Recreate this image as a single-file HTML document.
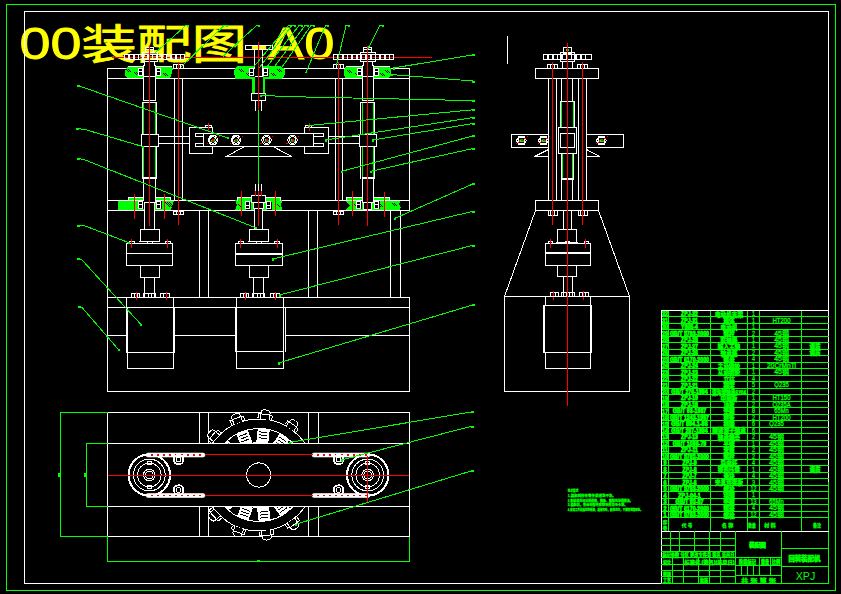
<!DOCTYPE html>
<html lang="zh"><head><meta charset="utf-8"><title>00装配图-A0</title>
<style>
html,body{margin:0;padding:0;background:#000;}
body{width:841px;height:594px;overflow:hidden;}
svg{display:block;}
svg line,svg rect,svg polyline,svg polygon,svg circle,svg path{shape-rendering:crispEdges;}
text{font-family:"Liberation Sans","Noto Sans CJK SC",sans-serif;}
</style></head><body>
<svg width="841" height="594" viewBox="0 0 841 594">
<rect x="0" y="0" width="841" height="594" fill="#000" stroke="none"/>
<text transform="translate(19.4 59) scale(1.239 1)" font-size="45" fill="#ffff00" stroke="#ffff00" stroke-width="0.8">00<tspan font-size="41" dy="-0.4" textLength="133.5" lengthAdjust="spacingAndGlyphs">装配图</tspan><tspan dy="0.4" dx="2.6" textLength="68.2" lengthAdjust="spacingAndGlyphs">-A0</tspan></text>
<rect x="6.5" y="4.5" width="829" height="586" stroke="#00ff00" fill="none"/>
<rect x="24.5" y="11.5" width="804" height="572" stroke="#ffffff" fill="none"/>
<line x1="112" y1="57.5" x2="432" y2="57.5" stroke="#ff0000"/>
<polygon points="118,200 128,200 128,198 144,198 144,211 118,211 117.5,204" fill="#00ff00" stroke="none"/>
<polygon points="155,198 171,198 171,200 174,200 170.5,211 155,211" fill="#00ff00" stroke="none"/>
<polygon points="346,198 390,198 390,200 400.5,200 399,204 401,207.5 398.5,211 345,211 350,205.5 345,200 346,200" fill="#00ff00" stroke="none"/>
<line x1="165" y1="202" x2="170" y2="207" stroke="#000"/>
<line x1="167" y1="202" x2="172" y2="207" stroke="#000"/>
<line x1="169" y1="202" x2="174" y2="207" stroke="#000"/>
<line x1="238" y1="204" x2="241" y2="207" stroke="#000"/>
<line x1="277" y1="204" x2="280" y2="207" stroke="#000"/>
<line x1="354" y1="204" x2="357" y2="207" stroke="#000"/>
<line x1="378" y1="204" x2="381" y2="207" stroke="#000"/>
<line x1="380" y1="204" x2="383" y2="207" stroke="#000"/>
<line x1="392" y1="203" x2="395" y2="206" stroke="#000"/>
<line x1="394" y1="203" x2="397" y2="206" stroke="#000"/>
<line x1="107.5" y1="68" x2="107.5" y2="392" stroke="#ffffff"/>
<line x1="107" y1="68.5" x2="410" y2="68.5" stroke="#ffffff"/>
<line x1="107" y1="78.5" x2="410" y2="78.5" stroke="#ffffff"/>
<line x1="409.5" y1="68" x2="409.5" y2="211" stroke="#ffffff"/>
<line x1="107" y1="200.5" x2="410" y2="200.5" stroke="#ffffff"/>
<line x1="107" y1="210.5" x2="410" y2="210.5" stroke="#ffffff"/>
<line x1="199.5" y1="210" x2="199.5" y2="298" stroke="#ffffff"/>
<line x1="208.5" y1="210" x2="208.5" y2="298" stroke="#ffffff"/>
<line x1="308.5" y1="210" x2="308.5" y2="298" stroke="#ffffff"/>
<line x1="317.5" y1="210" x2="317.5" y2="298" stroke="#ffffff"/>
<line x1="390.5" y1="210" x2="390.5" y2="298" stroke="#ffffff"/>
<line x1="400.5" y1="210" x2="400.5" y2="298" stroke="#ffffff"/>
<line x1="107" y1="297.5" x2="410" y2="297.5" stroke="#ffffff"/>
<line x1="107" y1="307.5" x2="410" y2="307.5" stroke="#ffffff"/>
<line x1="409.5" y1="297" x2="409.5" y2="392" stroke="#ffffff"/>
<line x1="107" y1="335.5" x2="410" y2="335.5" stroke="#ffffff"/>
<line x1="107" y1="391.5" x2="410" y2="391.5" stroke="#ffffff"/>
<polygon points="237,198 280,198 280,200 282.5,200 281,205 283,211 235,211 237,205 235,200 237,200" fill="#00ff00" stroke="none"/>
<line x1="235" y1="210.5" x2="283" y2="210.5" stroke="#ffffff"/>
<line x1="238" y1="204" x2="241" y2="207" stroke="#000"/>
<line x1="277" y1="204" x2="280" y2="207" stroke="#000"/>
<line x1="128" y1="197.5" x2="144" y2="197.5" stroke="#ffffff"/>
<line x1="155" y1="197.5" x2="171" y2="197.5" stroke="#ffffff"/>
<line x1="128.5" y1="197" x2="128.5" y2="201" stroke="#ffffff"/>
<line x1="170.5" y1="197" x2="170.5" y2="201" stroke="#ffffff"/>
<line x1="237" y1="197.5" x2="281" y2="197.5" stroke="#ffffff"/>
<line x1="237.5" y1="197" x2="237.5" y2="201" stroke="#ffffff"/>
<line x1="280.5" y1="197" x2="280.5" y2="201" stroke="#ffffff"/>
<line x1="346" y1="197.5" x2="390" y2="197.5" stroke="#ffffff"/>
<line x1="346.5" y1="197" x2="346.5" y2="201" stroke="#ffffff"/>
<line x1="389.5" y1="197" x2="389.5" y2="201" stroke="#ffffff"/>
<polygon points="128,66 144,66 144,79 128,79 125,75 125,70.5" fill="#00ff00" stroke="none"/>
<polygon points="155,66 171,66 173,68.5 170,79 155,79" fill="#00ff00" stroke="none"/>
<polygon points="346,66 363,66 363,79 346,79 344,75 344,70.5" fill="#00ff00" stroke="none"/>
<polygon points="374,66 389,66 391,69 391,75 388,79 374,79" fill="#00ff00" stroke="none"/>
<polygon points="237,66 280.5,66 284.5,69 284.5,75 282,79 265,79 265,93 252,93 252,79 235.5,79 233.5,71" fill="#00ff00" stroke="none"/>
<rect x="255" y="77" width="7.5" height="16" fill="#000" stroke="none"/>
<line x1="128" y1="66.5" x2="144" y2="66.5" stroke="#ffffff"/>
<line x1="155" y1="66.5" x2="172" y2="66.5" stroke="#ffffff"/>
<line x1="346" y1="66.5" x2="363" y2="66.5" stroke="#ffffff"/>
<line x1="374" y1="66.5" x2="390" y2="66.5" stroke="#ffffff"/>
<line x1="125" y1="78.5" x2="145" y2="78.5" stroke="#ffffff"/>
<line x1="155" y1="78.5" x2="172" y2="78.5" stroke="#ffffff"/>
<line x1="344" y1="78.5" x2="364" y2="78.5" stroke="#ffffff"/>
<line x1="374" y1="78.5" x2="391" y2="78.5" stroke="#ffffff"/>
<line x1="126" y1="69" x2="129" y2="72" stroke="#000"/>
<line x1="128" y1="69" x2="131" y2="72" stroke="#000"/>
<line x1="134" y1="72" x2="137" y2="75" stroke="#000"/>
<line x1="136" y1="72" x2="139" y2="75" stroke="#000"/>
<line x1="163" y1="73" x2="166" y2="76" stroke="#000"/>
<line x1="165" y1="73" x2="168" y2="76" stroke="#000"/>
<line x1="347" y1="70" x2="350" y2="73" stroke="#000"/>
<line x1="349" y1="70" x2="352" y2="73" stroke="#000"/>
<line x1="355" y1="73" x2="358" y2="76" stroke="#000"/>
<line x1="357" y1="73" x2="360" y2="76" stroke="#000"/>
<line x1="380" y1="73" x2="383" y2="76" stroke="#000"/>
<line x1="382" y1="73" x2="385" y2="76" stroke="#000"/>
<line x1="385" y1="70" x2="388" y2="73" stroke="#000"/>
<line x1="387" y1="70" x2="390" y2="73" stroke="#000"/>
<line x1="239" y1="69" x2="242" y2="72" stroke="#000"/>
<line x1="241" y1="69" x2="244" y2="72" stroke="#000"/>
<line x1="246" y1="73" x2="249" y2="76" stroke="#000"/>
<line x1="248" y1="73" x2="251" y2="76" stroke="#000"/>
<line x1="271" y1="73" x2="274" y2="76" stroke="#000"/>
<line x1="273" y1="73" x2="276" y2="76" stroke="#000"/>
<line x1="277" y1="69" x2="280" y2="72" stroke="#000"/>
<line x1="279" y1="69" x2="282" y2="72" stroke="#000"/>
<rect x="124.5" y="54.5" width="60" height="5" stroke="#ffffff" fill="none"/>
<rect x="128" y="54" width="2" height="6" fill="#fff" stroke="none"/>
<rect x="133" y="54" width="2" height="6" fill="#fff" stroke="none"/>
<rect x="138" y="54" width="1" height="6" fill="#fff" stroke="none"/>
<rect x="142" y="54" width="2" height="6" fill="#fff" stroke="none"/>
<rect x="147" y="54" width="2" height="6" fill="#fff" stroke="none"/>
<rect x="152" y="54" width="1" height="6" fill="#fff" stroke="none"/>
<rect x="156" y="54" width="2" height="6" fill="#fff" stroke="none"/>
<rect x="161" y="54" width="2" height="6" fill="#fff" stroke="none"/>
<rect x="166" y="54" width="1" height="6" fill="#fff" stroke="none"/>
<rect x="170" y="54" width="2" height="6" fill="#fff" stroke="none"/>
<rect x="175" y="54" width="2" height="6" fill="#fff" stroke="none"/>
<rect x="180" y="54" width="1" height="6" fill="#fff" stroke="none"/>
<rect x="333.5" y="54.5" width="60" height="5" stroke="#ffffff" fill="none"/>
<rect x="337" y="54" width="2" height="6" fill="#fff" stroke="none"/>
<rect x="342" y="54" width="2" height="6" fill="#fff" stroke="none"/>
<rect x="347" y="54" width="1" height="6" fill="#fff" stroke="none"/>
<rect x="351" y="54" width="2" height="6" fill="#fff" stroke="none"/>
<rect x="356" y="54" width="2" height="6" fill="#fff" stroke="none"/>
<rect x="361" y="54" width="1" height="6" fill="#fff" stroke="none"/>
<rect x="365" y="54" width="2" height="6" fill="#fff" stroke="none"/>
<rect x="370" y="54" width="2" height="6" fill="#fff" stroke="none"/>
<rect x="375" y="54" width="1" height="6" fill="#fff" stroke="none"/>
<rect x="379" y="54" width="2" height="6" fill="#fff" stroke="none"/>
<rect x="384" y="54" width="2" height="6" fill="#fff" stroke="none"/>
<rect x="389" y="54" width="1" height="6" fill="#fff" stroke="none"/>
<rect x="145.5" y="47.5" width="8" height="5" stroke="#ffffff" fill="none"/>
<line x1="146" y1="49.5" x2="153" y2="49.5" stroke="#ffffff"/>
<rect x="142.5" y="52.5" width="15" height="9" stroke="#ffffff" fill="none"/>
<rect x="143.5" y="62" width="12.5" height="39" fill="#000" stroke="none"/>
<line x1="144.5" y1="61" x2="144.5" y2="66" stroke="#ffffff"/>
<line x1="154.5" y1="61" x2="154.5" y2="66" stroke="#ffffff"/>
<line x1="143" y1="65.5" x2="145" y2="65.5" stroke="#ffffff"/>
<line x1="154" y1="65.5" x2="156" y2="65.5" stroke="#ffffff"/>
<line x1="143.5" y1="65" x2="143.5" y2="101" stroke="#ffffff"/>
<line x1="155.5" y1="65" x2="155.5" y2="101" stroke="#ffffff"/>
<line x1="143" y1="76.5" x2="156" y2="76.5" stroke="#ffffff"/>
<rect x="138" y="68" width="5" height="8" fill="#000" stroke="none"/>
<rect x="138.5" y="68.5" width="4" height="3" stroke="#ffffff" fill="none"/>
<rect x="138.5" y="71.5" width="4" height="4" stroke="#ffffff" fill="none"/>
<rect x="156" y="68" width="5" height="8" fill="#000" stroke="none"/>
<rect x="156.5" y="68.5" width="4" height="3" stroke="#ffffff" fill="none"/>
<rect x="156.5" y="71.5" width="4" height="4" stroke="#ffffff" fill="none"/>
<line x1="143" y1="100.5" x2="156" y2="100.5" stroke="#ffffff"/>
<line x1="142.5" y1="102" x2="142.5" y2="179" stroke="#ffffff"/>
<line x1="156.5" y1="102" x2="156.5" y2="179" stroke="#ffffff"/>
<line x1="143.5" y1="103" x2="143.5" y2="178" stroke="#00ff00"/>
<line x1="155.5" y1="103" x2="155.5" y2="178" stroke="#00ff00"/>
<line x1="143" y1="102.5" x2="156" y2="102.5" stroke="#ffffff"/>
<line x1="143" y1="178.5" x2="156" y2="178.5" stroke="#ffffff"/>
<line x1="143" y1="177.5" x2="156" y2="177.5" stroke="#ffffff"/>
<rect x="143.5" y="179" width="12.5" height="24" fill="#000" stroke="none"/>
<line x1="143.5" y1="178" x2="143.5" y2="203" stroke="#ffffff"/>
<line x1="155.5" y1="178" x2="155.5" y2="203" stroke="#ffffff"/>
<line x1="143" y1="202.5" x2="156" y2="202.5" stroke="#ffffff"/>
<rect x="141.5" y="134.5" width="17" height="12" stroke="#ffffff" fill="#000"/>
<rect x="363.5" y="47.5" width="8" height="5" stroke="#ffffff" fill="none"/>
<line x1="364" y1="49.5" x2="371" y2="49.5" stroke="#ffffff"/>
<rect x="360.5" y="52.5" width="15" height="9" stroke="#ffffff" fill="none"/>
<rect x="362.5" y="62" width="11.5" height="39" fill="#000" stroke="none"/>
<line x1="363.5" y1="61" x2="363.5" y2="66" stroke="#ffffff"/>
<line x1="372.5" y1="61" x2="372.5" y2="66" stroke="#ffffff"/>
<line x1="362" y1="65.5" x2="364" y2="65.5" stroke="#ffffff"/>
<line x1="372" y1="65.5" x2="374" y2="65.5" stroke="#ffffff"/>
<line x1="362.5" y1="65" x2="362.5" y2="101" stroke="#ffffff"/>
<line x1="373.5" y1="65" x2="373.5" y2="101" stroke="#ffffff"/>
<line x1="362" y1="76.5" x2="374" y2="76.5" stroke="#ffffff"/>
<rect x="357" y="68" width="5" height="8" fill="#000" stroke="none"/>
<rect x="357.5" y="68.5" width="4" height="3" stroke="#ffffff" fill="none"/>
<rect x="357.5" y="71.5" width="4" height="4" stroke="#ffffff" fill="none"/>
<rect x="374" y="68" width="5" height="8" fill="#000" stroke="none"/>
<rect x="374.5" y="68.5" width="4" height="3" stroke="#ffffff" fill="none"/>
<rect x="374.5" y="71.5" width="4" height="4" stroke="#ffffff" fill="none"/>
<line x1="362" y1="100.5" x2="374" y2="100.5" stroke="#ffffff"/>
<line x1="360.5" y1="102" x2="360.5" y2="179" stroke="#ffffff"/>
<line x1="374.5" y1="102" x2="374.5" y2="179" stroke="#ffffff"/>
<line x1="362.5" y1="103" x2="362.5" y2="178" stroke="#00ff00"/>
<line x1="373.5" y1="103" x2="373.5" y2="178" stroke="#00ff00"/>
<line x1="361" y1="102.5" x2="374" y2="102.5" stroke="#ffffff"/>
<line x1="362" y1="178.5" x2="374" y2="178.5" stroke="#ffffff"/>
<line x1="362" y1="177.5" x2="374" y2="177.5" stroke="#ffffff"/>
<rect x="362.5" y="179" width="11.5" height="24" fill="#000" stroke="none"/>
<line x1="362.5" y1="178" x2="362.5" y2="203" stroke="#ffffff"/>
<line x1="373.5" y1="178" x2="373.5" y2="203" stroke="#ffffff"/>
<line x1="362" y1="202.5" x2="374" y2="202.5" stroke="#ffffff"/>
<rect x="359.5" y="134.5" width="17" height="12" stroke="#ffffff" fill="#000"/>
<rect x="144" y="203" width="11" height="27" fill="#000" stroke="none"/>
<line x1="144.5" y1="202" x2="144.5" y2="230" stroke="#ffffff"/>
<line x1="154.5" y1="202" x2="154.5" y2="230" stroke="#ffffff"/>
<rect x="138.5" y="201" width="5" height="8" fill="#000" stroke="none"/>
<rect x="138.5" y="201.5" width="4" height="3" stroke="#ffffff" fill="none"/>
<rect x="138.5" y="204.5" width="4" height="4" stroke="#ffffff" fill="none"/>
<rect x="156.5" y="201" width="5" height="8" fill="#000" stroke="none"/>
<rect x="156.5" y="201.5" width="4" height="3" stroke="#ffffff" fill="none"/>
<rect x="156.5" y="204.5" width="4" height="4" stroke="#ffffff" fill="none"/>
<rect x="363" y="203" width="9" height="7" fill="#000" stroke="none"/>
<rect x="363.5" y="202.5" width="8" height="7" stroke="#ffffff" fill="none"/>
<rect x="356.5" y="201" width="5" height="8" fill="#000" stroke="none"/>
<rect x="356.5" y="201.5" width="4" height="3" stroke="#ffffff" fill="none"/>
<rect x="356.5" y="204.5" width="4" height="4" stroke="#ffffff" fill="none"/>
<rect x="374.5" y="201" width="5" height="8" fill="#000" stroke="none"/>
<rect x="374.5" y="201.5" width="4" height="3" stroke="#ffffff" fill="none"/>
<rect x="374.5" y="204.5" width="4" height="4" stroke="#ffffff" fill="none"/>
<line x1="174.5" y1="78" x2="174.5" y2="201" stroke="#ffffff"/>
<line x1="182.5" y1="78" x2="182.5" y2="201" stroke="#ffffff"/>
<rect x="173.5" y="64.5" width="10" height="4" stroke="#ffffff" fill="none"/>
<line x1="176.5" y1="64" x2="176.5" y2="69" stroke="#ffffff"/>
<line x1="180.5" y1="64" x2="180.5" y2="69" stroke="#ffffff"/>
<rect x="173.5" y="211.5" width="10" height="3" stroke="#ffffff" fill="none"/>
<line x1="176.5" y1="211" x2="176.5" y2="215" stroke="#ffffff"/>
<line x1="180.5" y1="211" x2="180.5" y2="215" stroke="#ffffff"/>
<line x1="178.5" y1="62" x2="178.5" y2="225" stroke="#ff0000"/>
<line x1="335.5" y1="78" x2="335.5" y2="201" stroke="#ffffff"/>
<line x1="342.5" y1="78" x2="342.5" y2="201" stroke="#ffffff"/>
<rect x="333.5" y="64.5" width="10" height="4" stroke="#ffffff" fill="none"/>
<line x1="336.5" y1="64" x2="336.5" y2="69" stroke="#ffffff"/>
<line x1="340.5" y1="64" x2="340.5" y2="69" stroke="#ffffff"/>
<rect x="333.5" y="211.5" width="10" height="3" stroke="#ffffff" fill="none"/>
<line x1="336.5" y1="211" x2="336.5" y2="215" stroke="#ffffff"/>
<line x1="340.5" y1="211" x2="340.5" y2="215" stroke="#ffffff"/>
<line x1="338.5" y1="62" x2="338.5" y2="225" stroke="#ff0000"/>
<line x1="158" y1="136.5" x2="190" y2="136.5" stroke="#ffffff"/>
<line x1="328" y1="136.5" x2="359" y2="136.5" stroke="#ffffff"/>
<line x1="158" y1="143.5" x2="190" y2="143.5" stroke="#ffffff"/>
<line x1="328" y1="143.5" x2="359" y2="143.5" stroke="#ffffff"/>
<rect x="189.5" y="127.5" width="23" height="26" stroke="#ffffff" fill="none"/>
<rect x="304.5" y="127.5" width="24" height="26" stroke="#ffffff" fill="none"/>
<rect x="203.5" y="133.5" width="110" height="13" stroke="#ffffff" fill="#000"/>
<line x1="258.5" y1="133" x2="258.5" y2="147" stroke="#ffffff"/>
<rect x="195.5" y="133.5" width="8" height="3" stroke="#ffffff" fill="#000"/>
<rect x="195.5" y="143.5" width="8" height="3" stroke="#ffffff" fill="#000"/>
<rect x="313.5" y="133.5" width="10" height="3" stroke="#ffffff" fill="#000"/>
<rect x="313.5" y="143.5" width="10" height="3" stroke="#ffffff" fill="#000"/>
<rect x="205.5" y="125.5" width="6" height="2" stroke="#ffffff" fill="none"/>
<line x1="208.5" y1="123" x2="208.5" y2="131" stroke="#ff0000"/>
<rect x="305.5" y="125.5" width="6" height="2" stroke="#ffffff" fill="none"/>
<line x1="309.5" y1="123" x2="309.5" y2="131" stroke="#ff0000"/>
<polygon points="218,140 215.5,144.33 210.5,144.33 208,140 210.5,135.67 215.5,135.67" stroke="#fff" fill="none"/>
<circle cx="213" cy="140" r="3.2" stroke="#fff" fill="none"/>
<path d="M211,141 a2,2 0 0 1 4,0 z" fill="#00ff00" stroke="#00ff00" stroke-width="0.6"/>
<line x1="207" y1="143.8" x2="219.5" y2="136" stroke="#ff0000" stroke-dasharray="1.5 2"/>
<rect x="212.4" y="139.2" width="1.6" height="1.6" fill="#ff0000" stroke="none"/>
<polygon points="241,140 238.5,144.33 233.5,144.33 231,140 233.5,135.67 238.5,135.67" stroke="#fff" fill="none"/>
<circle cx="236" cy="140" r="3.2" stroke="#fff" fill="none"/>
<path d="M234,141 a2,2 0 0 1 4,0 z" fill="#00ff00" stroke="#00ff00" stroke-width="0.6"/>
<line x1="230" y1="143.8" x2="242.5" y2="136" stroke="#ff0000" stroke-dasharray="1.5 2"/>
<rect x="235.4" y="139.2" width="1.6" height="1.6" fill="#ff0000" stroke="none"/>
<polygon points="271.5,140 269,144.33 264,144.33 261.5,140 264,135.67 269,135.67" stroke="#fff" fill="none"/>
<circle cx="266.5" cy="140" r="3.2" stroke="#fff" fill="none"/>
<path d="M264.5,141 a2,2 0 0 1 4,0 z" fill="#00ff00" stroke="#00ff00" stroke-width="0.6"/>
<line x1="260.5" y1="143.8" x2="273" y2="136" stroke="#ff0000" stroke-dasharray="1.5 2"/>
<rect x="265.9" y="139.2" width="1.6" height="1.6" fill="#ff0000" stroke="none"/>
<polygon points="297.5,140 295,144.33 290,144.33 287.5,140 290,135.67 295,135.67" stroke="#fff" fill="none"/>
<circle cx="292.5" cy="140" r="3.2" stroke="#fff" fill="none"/>
<path d="M290.5,141 a2,2 0 0 1 4,0 z" fill="#00ff00" stroke="#00ff00" stroke-width="0.6"/>
<line x1="286.5" y1="143.8" x2="299" y2="136" stroke="#ff0000" stroke-dasharray="1.5 2"/>
<rect x="291.9" y="139.2" width="1.6" height="1.6" fill="#ff0000" stroke="none"/>
<polyline points="244.5,146.5 226.5,156.5 291.5,156.5 273,146.5" stroke="#ffffff" fill="none"/>
<rect x="245.5" y="45.5" width="27" height="4" stroke="#ffffff" fill="none"/>
<line x1="254.5" y1="49" x2="254.5" y2="62" stroke="#ffffff"/>
<line x1="262.5" y1="49" x2="262.5" y2="62" stroke="#ffffff"/>
<rect x="255" y="61" width="7.5" height="16" fill="#000" stroke="none"/>
<line x1="254.5" y1="61" x2="254.5" y2="77" stroke="#ffffff"/>
<line x1="262.5" y1="61" x2="262.5" y2="77" stroke="#ffffff"/>
<line x1="254" y1="76.5" x2="263" y2="76.5" stroke="#ffffff"/>
<rect x="249.5" y="68.5" width="5" height="8" fill="#000" stroke="none"/>
<rect x="249.5" y="68.5" width="4" height="4" stroke="#ffffff" fill="none"/>
<rect x="249.5" y="72.5" width="4" height="3" stroke="#ffffff" fill="none"/>
<rect x="263.5" y="68.5" width="5" height="8" fill="#000" stroke="none"/>
<rect x="263.5" y="68.5" width="4" height="4" stroke="#ffffff" fill="none"/>
<rect x="263.5" y="72.5" width="4" height="3" stroke="#ffffff" fill="none"/>
<rect x="251.5" y="93.5" width="14" height="7" stroke="#ffffff" fill="#000"/>
<line x1="255.5" y1="100" x2="255.5" y2="111" stroke="#ffffff"/>
<line x1="258.5" y1="100" x2="258.5" y2="111" stroke="#ffffff"/>
<line x1="261.5" y1="100" x2="261.5" y2="111" stroke="#ffffff"/>
<line x1="258.5" y1="42" x2="258.5" y2="111" stroke="#ff0000"/>
<line x1="258.5" y1="110" x2="258.5" y2="185" stroke="#00ff00"/>
<rect x="251.5" y="195.5" width="14" height="7" stroke="#ffffff" fill="#000"/>
<rect x="253.5" y="202.5" width="10" height="6" stroke="#ffffff" fill="#000"/>
<rect x="255" y="209" width="7.5" height="21" fill="#000" stroke="none"/>
<line x1="254.5" y1="208" x2="254.5" y2="230" stroke="#ffffff"/>
<line x1="262.5" y1="208" x2="262.5" y2="230" stroke="#ffffff"/>
<rect x="245.5" y="201.5" width="5" height="8" fill="#000" stroke="none"/>
<rect x="245.5" y="201.5" width="4" height="4" stroke="#ffffff" fill="none"/>
<rect x="245.5" y="205.5" width="4" height="3" stroke="#ffffff" fill="none"/>
<rect x="266.5" y="201.5" width="5" height="8" fill="#000" stroke="none"/>
<rect x="266.5" y="201.5" width="4" height="4" stroke="#ffffff" fill="none"/>
<rect x="266.5" y="205.5" width="4" height="3" stroke="#ffffff" fill="none"/>
<line x1="255.5" y1="184" x2="255.5" y2="196" stroke="#ffffff"/>
<line x1="255.5" y1="191" x2="255.5" y2="196" stroke="#ff0000"/>
<line x1="258.5" y1="184" x2="258.5" y2="196" stroke="#ffffff"/>
<line x1="258.5" y1="191" x2="258.5" y2="196" stroke="#ff0000"/>
<line x1="261.5" y1="184" x2="261.5" y2="196" stroke="#ffffff"/>
<line x1="261.5" y1="191" x2="261.5" y2="196" stroke="#ff0000"/>
<line x1="134.5" y1="194" x2="134.5" y2="219" stroke="#ff0000"/>
<line x1="164.5" y1="194" x2="164.5" y2="219" stroke="#ff0000"/>
<line x1="241.5" y1="191" x2="241.5" y2="216" stroke="#ff0000"/>
<line x1="275.5" y1="191" x2="275.5" y2="216" stroke="#ff0000"/>
<line x1="352.5" y1="191" x2="352.5" y2="216" stroke="#ff0000"/>
<line x1="384.5" y1="192" x2="384.5" y2="217" stroke="#ff0000"/>
<line x1="258.5" y1="191" x2="258.5" y2="226" stroke="#ff0000"/>
<line x1="149.5" y1="46" x2="149.5" y2="226" stroke="#ff0000"/>
<line x1="367.5" y1="46" x2="367.5" y2="226" stroke="#ff0000"/>
<rect x="140.5" y="229.5" width="19" height="12" stroke="#ffffff" fill="none"/>
<line x1="139" y1="241.5" x2="160" y2="241.5" stroke="#ffffff"/>
<rect x="126.5" y="243.5" width="46" height="22" stroke="#ffffff" fill="none"/>
<line x1="126" y1="253.5" x2="173" y2="253.5" stroke="#ffffff"/>
<rect x="129.5" y="241.5" width="5" height="2" stroke="#ffffff" fill="none"/>
<rect x="147.5" y="241.5" width="5" height="2" stroke="#ffffff" fill="none"/>
<rect x="165.5" y="241.5" width="5" height="2" stroke="#ffffff" fill="none"/>
<line x1="131.5" y1="239" x2="131.5" y2="248" stroke="#ff0000"/>
<line x1="167.5" y1="239" x2="167.5" y2="248" stroke="#ff0000"/>
<rect x="140.5" y="265.5" width="19" height="12" stroke="#ffffff" fill="none"/>
<line x1="144.5" y1="277" x2="144.5" y2="298" stroke="#ffffff"/>
<line x1="154.5" y1="277" x2="154.5" y2="298" stroke="#ffffff"/>
<rect x="131.5" y="293.5" width="8" height="4" stroke="#ffffff" fill="none"/>
<line x1="134.5" y1="293" x2="134.5" y2="298" stroke="#ffffff"/>
<line x1="137.5" y1="293" x2="137.5" y2="298" stroke="#ffffff"/>
<rect x="143.5" y="293.5" width="12" height="4" stroke="#ffffff" fill="none"/>
<line x1="148.5" y1="293" x2="148.5" y2="298" stroke="#ffffff"/>
<line x1="151.5" y1="293" x2="151.5" y2="298" stroke="#ffffff"/>
<rect x="160.5" y="293.5" width="9" height="4" stroke="#ffffff" fill="none"/>
<line x1="163.5" y1="293" x2="163.5" y2="298" stroke="#ffffff"/>
<line x1="166.5" y1="293" x2="166.5" y2="298" stroke="#ffffff"/>
<rect x="249.5" y="229.5" width="19" height="12" stroke="#ffffff" fill="none"/>
<line x1="248" y1="241.5" x2="269" y2="241.5" stroke="#ffffff"/>
<rect x="235.5" y="243.5" width="47" height="22" stroke="#ffffff" fill="none"/>
<line x1="235" y1="253.5" x2="283" y2="253.5" stroke="#ffffff"/>
<line x1="235" y1="254.5" x2="283" y2="254.5" stroke="#ffffff"/>
<rect x="238.5" y="241.5" width="5" height="2" stroke="#ffffff" fill="none"/>
<rect x="256.5" y="241.5" width="5" height="2" stroke="#ffffff" fill="none"/>
<rect x="274.5" y="241.5" width="5" height="2" stroke="#ffffff" fill="none"/>
<line x1="240.5" y1="239" x2="240.5" y2="248" stroke="#ff0000"/>
<line x1="277.5" y1="239" x2="277.5" y2="248" stroke="#ff0000"/>
<rect x="249.5" y="265.5" width="19" height="12" stroke="#ffffff" fill="none"/>
<line x1="253.5" y1="277" x2="253.5" y2="298" stroke="#ffffff"/>
<line x1="263.5" y1="277" x2="263.5" y2="298" stroke="#ffffff"/>
<rect x="240.5" y="293.5" width="8" height="4" stroke="#ffffff" fill="none"/>
<line x1="243.5" y1="293" x2="243.5" y2="298" stroke="#ffffff"/>
<line x1="246.5" y1="293" x2="246.5" y2="298" stroke="#ffffff"/>
<rect x="252.5" y="293.5" width="12" height="4" stroke="#ffffff" fill="none"/>
<line x1="257.5" y1="293" x2="257.5" y2="298" stroke="#ffffff"/>
<line x1="260.5" y1="293" x2="260.5" y2="298" stroke="#ffffff"/>
<rect x="270.5" y="293.5" width="9" height="4" stroke="#ffffff" fill="none"/>
<line x1="273.5" y1="293" x2="273.5" y2="298" stroke="#ffffff"/>
<line x1="276.5" y1="293" x2="276.5" y2="298" stroke="#ffffff"/>
<rect x="127" y="298" width="47" height="54" fill="#000" stroke="none"/>
<line x1="126.5" y1="307" x2="126.5" y2="353" stroke="#ffffff"/>
<line x1="127.5" y1="307" x2="127.5" y2="353" stroke="#ffffff"/>
<line x1="173.5" y1="307" x2="173.5" y2="353" stroke="#ffffff"/>
<line x1="174.5" y1="307" x2="174.5" y2="353" stroke="#ffffff"/>
<line x1="126.5" y1="297" x2="126.5" y2="308" stroke="#ffffff"/>
<line x1="173.5" y1="297" x2="173.5" y2="308" stroke="#ffffff"/>
<line x1="126" y1="307.5" x2="175" y2="307.5" stroke="#ffffff"/>
<rect x="127.5" y="352.5" width="46" height="16" stroke="#ffffff" fill="#000"/>
<rect x="236" y="298" width="49" height="53" fill="#000" stroke="none"/>
<line x1="235.5" y1="307" x2="235.5" y2="352" stroke="#ffffff"/>
<line x1="236.5" y1="307" x2="236.5" y2="352" stroke="#ffffff"/>
<line x1="283.5" y1="307" x2="283.5" y2="352" stroke="#ffffff"/>
<line x1="285.5" y1="307" x2="285.5" y2="352" stroke="#ffffff"/>
<line x1="236.5" y1="297" x2="236.5" y2="308" stroke="#ffffff"/>
<line x1="283.5" y1="297" x2="283.5" y2="308" stroke="#ffffff"/>
<line x1="235" y1="307.5" x2="286" y2="307.5" stroke="#ffffff"/>
<rect x="236.5" y="351.5" width="47" height="17" stroke="#ffffff" fill="#000"/>
<line x1="136.5" y1="292" x2="136.5" y2="300" stroke="#ff0000"/>
<line x1="166.5" y1="292" x2="166.5" y2="300" stroke="#ff0000"/>
<line x1="245.5" y1="292" x2="245.5" y2="300" stroke="#ff0000"/>
<line x1="275.5" y1="292" x2="275.5" y2="300" stroke="#ff0000"/>
<line x1="507.5" y1="36" x2="507.5" y2="64" stroke="#ffffff"/>
<rect x="543.5" y="54.5" width="48" height="5" stroke="#ffffff" fill="none"/>
<rect x="547" y="54" width="2" height="6" fill="#fff" stroke="none"/>
<rect x="552" y="54" width="2" height="6" fill="#fff" stroke="none"/>
<rect x="557" y="54" width="1" height="6" fill="#fff" stroke="none"/>
<rect x="561" y="54" width="2" height="6" fill="#fff" stroke="none"/>
<rect x="566" y="54" width="2" height="6" fill="#fff" stroke="none"/>
<rect x="571" y="54" width="1" height="6" fill="#fff" stroke="none"/>
<rect x="575" y="54" width="2" height="6" fill="#fff" stroke="none"/>
<rect x="580" y="54" width="2" height="6" fill="#fff" stroke="none"/>
<rect x="585" y="54" width="1" height="6" fill="#fff" stroke="none"/>
<rect x="563.5" y="47.5" width="8" height="6" stroke="#ffffff" fill="none"/>
<circle cx="567.5" cy="50" r="1.2" stroke="#00ff00" fill="#00ff00"/>
<rect x="560.5" y="52.5" width="14" height="9" stroke="#ffffff" fill="none"/>
<rect x="562.5" y="61.5" width="10" height="7" stroke="#ffffff" fill="#000"/>
<rect x="535.5" y="68.5" width="63" height="10" stroke="#ffffff" fill="none"/>
<rect x="547.5" y="64.5" width="10" height="4" stroke="#ffffff" fill="none"/>
<line x1="550.5" y1="64" x2="550.5" y2="69" stroke="#ffffff"/>
<line x1="554.5" y1="64" x2="554.5" y2="69" stroke="#ffffff"/>
<line x1="548.5" y1="78" x2="548.5" y2="201" stroke="#ffffff"/>
<line x1="556.5" y1="78" x2="556.5" y2="201" stroke="#ffffff"/>
<rect x="548.5" y="210.5" width="9" height="5" stroke="#ffffff" fill="none"/>
<line x1="550.5" y1="210" x2="550.5" y2="216" stroke="#ffffff"/>
<line x1="554.5" y1="210" x2="554.5" y2="216" stroke="#ffffff"/>
<rect x="577.5" y="64.5" width="10" height="4" stroke="#ffffff" fill="none"/>
<line x1="580.5" y1="64" x2="580.5" y2="69" stroke="#ffffff"/>
<line x1="584.5" y1="64" x2="584.5" y2="69" stroke="#ffffff"/>
<line x1="578.5" y1="78" x2="578.5" y2="201" stroke="#ffffff"/>
<line x1="586.5" y1="78" x2="586.5" y2="201" stroke="#ffffff"/>
<rect x="578.5" y="210.5" width="9" height="5" stroke="#ffffff" fill="none"/>
<line x1="580.5" y1="210" x2="580.5" y2="216" stroke="#ffffff"/>
<line x1="584.5" y1="210" x2="584.5" y2="216" stroke="#ffffff"/>
<line x1="561.5" y1="78" x2="561.5" y2="102" stroke="#ffffff"/>
<line x1="572.5" y1="78" x2="572.5" y2="102" stroke="#ffffff"/>
<rect x="560.5" y="101.5" width="14" height="26" stroke="#ffffff" fill="none"/>
<line x1="561.5" y1="102" x2="561.5" y2="128" stroke="#00ff00"/>
<line x1="573.5" y1="102" x2="573.5" y2="128" stroke="#00ff00"/>
<line x1="511" y1="134.5" x2="549" y2="134.5" stroke="#ffffff"/>
<line x1="511" y1="147.5" x2="549" y2="147.5" stroke="#ffffff"/>
<line x1="586" y1="134.5" x2="624" y2="134.5" stroke="#ffffff"/>
<line x1="586" y1="147.5" x2="624" y2="147.5" stroke="#ffffff"/>
<line x1="511.5" y1="134" x2="511.5" y2="148" stroke="#ffffff"/>
<line x1="623.5" y1="134" x2="623.5" y2="148" stroke="#ffffff"/>
<polygon points="526.5,140.5 524,144.83 519,144.83 516.5,140.5 519,136.17 524,136.17" stroke="#fff" fill="none"/>
<circle cx="521.5" cy="140.5" r="3.2" stroke="#fff" fill="none"/>
<path d="M519.5,141.5 a2,2 0 0 1 4,0 z" fill="#00ff00" stroke="#00ff00" stroke-width="0.6"/>
<line x1="515.5" y1="144.3" x2="528" y2="136.5" stroke="#ff0000" stroke-dasharray="1.5 2"/>
<rect x="520.9" y="139.7" width="1.6" height="1.6" fill="#ff0000" stroke="none"/>
<polygon points="548.5,140.5 546,144.83 541,144.83 538.5,140.5 541,136.17 546,136.17" stroke="#fff" fill="none"/>
<circle cx="543.5" cy="140.5" r="3.2" stroke="#fff" fill="none"/>
<path d="M541.5,141.5 a2,2 0 0 1 4,0 z" fill="#00ff00" stroke="#00ff00" stroke-width="0.6"/>
<line x1="537.5" y1="144.3" x2="550" y2="136.5" stroke="#ff0000" stroke-dasharray="1.5 2"/>
<rect x="542.9" y="139.7" width="1.6" height="1.6" fill="#ff0000" stroke="none"/>
<polygon points="606.5,140.5 604,144.83 599,144.83 596.5,140.5 599,136.17 604,136.17" stroke="#fff" fill="none"/>
<circle cx="601.5" cy="140.5" r="3.2" stroke="#fff" fill="none"/>
<path d="M599.5,141.5 a2,2 0 0 1 4,0 z" fill="#00ff00" stroke="#00ff00" stroke-width="0.6"/>
<line x1="595.5" y1="144.3" x2="608" y2="136.5" stroke="#ff0000" stroke-dasharray="1.5 2"/>
<rect x="600.9" y="139.7" width="1.6" height="1.6" fill="#ff0000" stroke="none"/>
<rect x="558.5" y="127.5" width="18" height="26" stroke="#ffffff" fill="#000"/>
<rect x="560.5" y="133.5" width="14" height="14" stroke="#ffffff" fill="none"/>
<polyline points="548.5,149.5 534.5,156.5 548.5,156.5" stroke="#ffffff" fill="none"/>
<polyline points="586.5,149.5 599.5,156.5 586.5,156.5" stroke="#ffffff" fill="none"/>
<rect x="561.5" y="153.5" width="12" height="26" stroke="#ffffff" fill="none"/>
<line x1="562.5" y1="154" x2="562.5" y2="179" stroke="#00ff00"/>
<line x1="572.5" y1="154" x2="572.5" y2="179" stroke="#00ff00"/>
<line x1="561" y1="178.5" x2="574" y2="178.5" stroke="#ffffff"/>
<line x1="561.5" y1="179" x2="561.5" y2="201" stroke="#ffffff"/>
<line x1="572.5" y1="179" x2="572.5" y2="201" stroke="#ffffff"/>
<rect x="535.5" y="200.5" width="63" height="10" stroke="#ffffff" fill="#000"/>
<line x1="563.5" y1="210" x2="563.5" y2="230" stroke="#ffffff"/>
<line x1="571.5" y1="210" x2="571.5" y2="230" stroke="#ffffff"/>
<rect x="557.5" y="229.5" width="19" height="13" stroke="#ffffff" fill="none"/>
<rect x="545.5" y="243.5" width="45" height="22" stroke="#ffffff" fill="none"/>
<line x1="556" y1="242.5" x2="578" y2="242.5" stroke="#ffffff"/>
<line x1="545" y1="252.5" x2="591" y2="252.5" stroke="#ffffff"/>
<line x1="545" y1="253.5" x2="591" y2="253.5" stroke="#ffffff"/>
<rect x="548.5" y="241.5" width="4" height="2" stroke="#ffffff" fill="none"/>
<rect x="565.5" y="241.5" width="4" height="2" stroke="#ffffff" fill="none"/>
<rect x="584.5" y="241.5" width="4" height="2" stroke="#ffffff" fill="none"/>
<line x1="550.5" y1="239" x2="550.5" y2="248" stroke="#ff0000"/>
<line x1="585.5" y1="239" x2="585.5" y2="248" stroke="#ff0000"/>
<rect x="557.5" y="265.5" width="19" height="11" stroke="#ffffff" fill="none"/>
<line x1="563.5" y1="276" x2="563.5" y2="297" stroke="#ffffff"/>
<line x1="572.5" y1="276" x2="572.5" y2="297" stroke="#ffffff"/>
<rect x="550.5" y="292.5" width="8" height="4" stroke="#ffffff" fill="none"/>
<line x1="553.5" y1="292" x2="553.5" y2="297" stroke="#ffffff"/>
<line x1="555.5" y1="292" x2="555.5" y2="297" stroke="#ffffff"/>
<rect x="561.5" y="292.5" width="13" height="4" stroke="#ffffff" fill="none"/>
<line x1="566.5" y1="292" x2="566.5" y2="297" stroke="#ffffff"/>
<line x1="569.5" y1="292" x2="569.5" y2="297" stroke="#ffffff"/>
<rect x="579.5" y="292.5" width="9" height="4" stroke="#ffffff" fill="none"/>
<line x1="582.5" y1="292" x2="582.5" y2="297" stroke="#ffffff"/>
<line x1="585.5" y1="292" x2="585.5" y2="297" stroke="#ffffff"/>
<line x1="553.5" y1="291" x2="553.5" y2="300" stroke="#ff0000"/>
<line x1="583.5" y1="291" x2="583.5" y2="300" stroke="#ff0000"/>
<line x1="535.5" y1="210.5" x2="504.5" y2="296.5" stroke="#ffffff"/>
<line x1="598.5" y1="210.5" x2="629.5" y2="296.5" stroke="#ffffff"/>
<rect x="504.5" y="296.5" width="125" height="95" stroke="#ffffff" fill="none"/>
<line x1="545.5" y1="296" x2="545.5" y2="306" stroke="#ffffff"/>
<line x1="590.5" y1="296" x2="590.5" y2="306" stroke="#ffffff"/>
<line x1="543" y1="305.5" x2="592" y2="305.5" stroke="#ffffff"/>
<line x1="543.5" y1="305" x2="543.5" y2="353" stroke="#ffffff"/>
<line x1="544.5" y1="305" x2="544.5" y2="353" stroke="#ffffff"/>
<line x1="590.5" y1="305" x2="590.5" y2="353" stroke="#ffffff"/>
<line x1="591.5" y1="305" x2="591.5" y2="353" stroke="#ffffff"/>
<line x1="543" y1="352.5" x2="592" y2="352.5" stroke="#ffffff"/>
<rect x="545.5" y="352.5" width="45" height="16" stroke="#ffffff" fill="none"/>
<line x1="552.5" y1="62" x2="552.5" y2="225" stroke="#ff0000"/>
<line x1="582.5" y1="62" x2="582.5" y2="225" stroke="#ff0000"/>
<line x1="567.5" y1="43" x2="567.5" y2="406" stroke="#ff0000"/>
<rect x="107.5" y="412.5" width="302" height="124" stroke="#ffffff" fill="none"/>
<line x1="107" y1="443.5" x2="410" y2="443.5" stroke="#ffffff"/>
<line x1="107" y1="506.5" x2="410" y2="506.5" stroke="#ffffff"/>
<line x1="199.5" y1="412" x2="199.5" y2="444" stroke="#ffffff"/>
<line x1="199.5" y1="506" x2="199.5" y2="537" stroke="#ffffff"/>
<line x1="208.5" y1="412" x2="208.5" y2="444" stroke="#ffffff"/>
<line x1="208.5" y1="506" x2="208.5" y2="537" stroke="#ffffff"/>
<line x1="308.5" y1="412" x2="308.5" y2="444" stroke="#ffffff"/>
<line x1="308.5" y1="506" x2="308.5" y2="537" stroke="#ffffff"/>
<line x1="318.5" y1="412" x2="318.5" y2="444" stroke="#ffffff"/>
<line x1="318.5" y1="506" x2="318.5" y2="537" stroke="#ffffff"/>
<line x1="60" y1="412.5" x2="108" y2="412.5" stroke="#00ff00"/>
<line x1="60" y1="536.5" x2="108" y2="536.5" stroke="#00ff00"/>
<line x1="60.5" y1="412" x2="60.5" y2="537" stroke="#00ff00"/>
<line x1="86" y1="443.5" x2="108" y2="443.5" stroke="#00ff00"/>
<line x1="86" y1="506.5" x2="108" y2="506.5" stroke="#00ff00"/>
<line x1="86.5" y1="443" x2="86.5" y2="507" stroke="#00ff00"/>
<line x1="107.5" y1="537" x2="107.5" y2="562" stroke="#00ff00"/>
<line x1="409.5" y1="537" x2="409.5" y2="562" stroke="#00ff00"/>
<line x1="107" y1="561.5" x2="410" y2="561.5" stroke="#00ff00"/>
<rect x="58" y="473" width="2" height="4" fill="#00ff00" stroke="none"/>
<rect x="84" y="473" width="3" height="4" fill="#00ff00" stroke="none"/>
<rect x="257" y="560" width="3" height="1" fill="#00ff00" stroke="none"/>
<defs><clipPath id="cpTop"><rect x="108" y="400" width="301" height="43.5"/></clipPath><clipPath id="cpBot"><rect x="108" y="507" width="301" height="43"/></clipPath></defs>
<g clip-path="url(#cpTop)">
<circle cx="258.7" cy="475" r="56" stroke="#ffffff" fill="none"/>
<circle cx="258.7" cy="475" r="46.5" stroke="#ffffff" fill="none"/>
<circle cx="258.7" cy="475" r="32.5" stroke="#ffffff" fill="none"/>
<g transform="translate(258.7 475) rotate(6.3)">
<path d="M-4.5,-56 L-4.5,-62.5 Q-4.5,-65.5 0,-65.5 Q4.5,-65.5 4.5,-62.5 L4.5,-56" stroke="#fff" fill="#000"/>
<path d="M-7,-56.5 L-7,-61 L-4.5,-61 M4.5,-61 L7,-60 L7,-56.5" stroke="#fff" fill="none"/>
<line x1="-4" y1="-61" x2="4" y2="-61" stroke="#fff"/>
<rect x="-5.5" y="-45.5" width="11" height="12.5" fill="#fff" stroke="#fff"/>
<line x1="-4" y1="-43" x2="4" y2="-43" stroke="#000"/>
<line x1="-4" y1="-40" x2="4" y2="-40" stroke="#000"/>
<line x1="-4" y1="-37" x2="4" y2="-37" stroke="#000"/>
</g>
<g transform="translate(258.7 475) rotate(34)">
<path d="M-4.5,-56 L-4.5,-62.5 Q-4.5,-65.5 0,-65.5 Q4.5,-65.5 4.5,-62.5 L4.5,-56" stroke="#fff" fill="#000"/>
<path d="M-7,-56.5 L-7,-61 L-4.5,-61 M4.5,-61 L7,-60 L7,-56.5" stroke="#fff" fill="none"/>
<line x1="-4" y1="-61" x2="4" y2="-61" stroke="#fff"/>
<rect x="-5.5" y="-45.5" width="11" height="12.5" fill="#fff" stroke="#fff"/>
<line x1="-4" y1="-43" x2="4" y2="-43" stroke="#000"/>
<line x1="-4" y1="-40" x2="4" y2="-40" stroke="#000"/>
<line x1="-4" y1="-37" x2="4" y2="-37" stroke="#000"/>
</g>
<g transform="translate(258.7 475) rotate(61.7)">
<rect x="-5.5" y="-45.5" width="11" height="12.5" fill="#fff" stroke="#fff"/>
<line x1="-4" y1="-43" x2="4" y2="-43" stroke="#000"/>
<line x1="-4" y1="-40" x2="4" y2="-40" stroke="#000"/>
<line x1="-4" y1="-37" x2="4" y2="-37" stroke="#000"/>
</g>
<g transform="translate(258.7 475) rotate(89.4)">
<rect x="-5.5" y="-45.5" width="11" height="12.5" fill="#fff" stroke="#fff"/>
<line x1="-4" y1="-43" x2="4" y2="-43" stroke="#000"/>
<line x1="-4" y1="-40" x2="4" y2="-40" stroke="#000"/>
<line x1="-4" y1="-37" x2="4" y2="-37" stroke="#000"/>
</g>
<g transform="translate(258.7 475) rotate(117.1)">
<rect x="-5.5" y="-45.5" width="11" height="12.5" fill="#fff" stroke="#fff"/>
<line x1="-4" y1="-43" x2="4" y2="-43" stroke="#000"/>
<line x1="-4" y1="-40" x2="4" y2="-40" stroke="#000"/>
<line x1="-4" y1="-37" x2="4" y2="-37" stroke="#000"/>
</g>
<g transform="translate(258.7 475) rotate(144.8)">
<path d="M-4.5,-56 L-4.5,-62.5 Q-4.5,-65.5 0,-65.5 Q4.5,-65.5 4.5,-62.5 L4.5,-56" stroke="#fff" fill="#000"/>
<path d="M-7,-56.5 L-7,-61 L-4.5,-61 M4.5,-61 L7,-60 L7,-56.5" stroke="#fff" fill="none"/>
<line x1="-4" y1="-61" x2="4" y2="-61" stroke="#fff"/>
<rect x="-5.5" y="-45.5" width="11" height="12.5" fill="#fff" stroke="#fff"/>
<line x1="-4" y1="-43" x2="4" y2="-43" stroke="#000"/>
<line x1="-4" y1="-40" x2="4" y2="-40" stroke="#000"/>
<line x1="-4" y1="-37" x2="4" y2="-37" stroke="#000"/>
</g>
<g transform="translate(258.7 475) rotate(172.5)">
<path d="M-4.5,-56 L-4.5,-62.5 Q-4.5,-65.5 0,-65.5 Q4.5,-65.5 4.5,-62.5 L4.5,-56" stroke="#fff" fill="#000"/>
<path d="M-7,-56.5 L-7,-61 L-4.5,-61 M4.5,-61 L7,-60 L7,-56.5" stroke="#fff" fill="none"/>
<line x1="-4" y1="-61" x2="4" y2="-61" stroke="#fff"/>
<rect x="-5.5" y="-45.5" width="11" height="12.5" fill="#fff" stroke="#fff"/>
<line x1="-4" y1="-43" x2="4" y2="-43" stroke="#000"/>
<line x1="-4" y1="-40" x2="4" y2="-40" stroke="#000"/>
<line x1="-4" y1="-37" x2="4" y2="-37" stroke="#000"/>
</g>
<g transform="translate(258.7 475) rotate(200.2)">
<path d="M-4.5,-56 L-4.5,-62.5 Q-4.5,-65.5 0,-65.5 Q4.5,-65.5 4.5,-62.5 L4.5,-56" stroke="#fff" fill="#000"/>
<path d="M-7,-56.5 L-7,-61 L-4.5,-61 M4.5,-61 L7,-60 L7,-56.5" stroke="#fff" fill="none"/>
<line x1="-4" y1="-61" x2="4" y2="-61" stroke="#fff"/>
<rect x="-5.5" y="-45.5" width="11" height="12.5" fill="#fff" stroke="#fff"/>
<line x1="-4" y1="-43" x2="4" y2="-43" stroke="#000"/>
<line x1="-4" y1="-40" x2="4" y2="-40" stroke="#000"/>
<line x1="-4" y1="-37" x2="4" y2="-37" stroke="#000"/>
</g>
<g transform="translate(258.7 475) rotate(227.9)">
<path d="M-4.5,-56 L-4.5,-62.5 Q-4.5,-65.5 0,-65.5 Q4.5,-65.5 4.5,-62.5 L4.5,-56" stroke="#fff" fill="#000"/>
<path d="M-7,-56.5 L-7,-61 L-4.5,-61 M4.5,-61 L7,-60 L7,-56.5" stroke="#fff" fill="none"/>
<line x1="-4" y1="-61" x2="4" y2="-61" stroke="#fff"/>
<rect x="-5.5" y="-45.5" width="11" height="12.5" fill="#fff" stroke="#fff"/>
<line x1="-4" y1="-43" x2="4" y2="-43" stroke="#000"/>
<line x1="-4" y1="-40" x2="4" y2="-40" stroke="#000"/>
<line x1="-4" y1="-37" x2="4" y2="-37" stroke="#000"/>
</g>
<g transform="translate(258.7 475) rotate(255.6)">
<rect x="-5.5" y="-45.5" width="11" height="12.5" fill="#fff" stroke="#fff"/>
<line x1="-4" y1="-43" x2="4" y2="-43" stroke="#000"/>
<line x1="-4" y1="-40" x2="4" y2="-40" stroke="#000"/>
<line x1="-4" y1="-37" x2="4" y2="-37" stroke="#000"/>
</g>
<g transform="translate(258.7 475) rotate(283.3)">
<rect x="-5.5" y="-45.5" width="11" height="12.5" fill="#fff" stroke="#fff"/>
<line x1="-4" y1="-43" x2="4" y2="-43" stroke="#000"/>
<line x1="-4" y1="-40" x2="4" y2="-40" stroke="#000"/>
<line x1="-4" y1="-37" x2="4" y2="-37" stroke="#000"/>
</g>
<g transform="translate(258.7 475) rotate(311)">
<path d="M-4.5,-56 L-4.5,-62.5 Q-4.5,-65.5 0,-65.5 Q4.5,-65.5 4.5,-62.5 L4.5,-56" stroke="#fff" fill="#000"/>
<path d="M-7,-56.5 L-7,-61 L-4.5,-61 M4.5,-61 L7,-60 L7,-56.5" stroke="#fff" fill="none"/>
<line x1="-4" y1="-61" x2="4" y2="-61" stroke="#fff"/>
<rect x="-5.5" y="-45.5" width="11" height="12.5" fill="#fff" stroke="#fff"/>
<line x1="-4" y1="-43" x2="4" y2="-43" stroke="#000"/>
<line x1="-4" y1="-40" x2="4" y2="-40" stroke="#000"/>
<line x1="-4" y1="-37" x2="4" y2="-37" stroke="#000"/>
</g>
<g transform="translate(258.7 475) rotate(338.7)">
<path d="M-4.5,-56 L-4.5,-62.5 Q-4.5,-65.5 0,-65.5 Q4.5,-65.5 4.5,-62.5 L4.5,-56" stroke="#fff" fill="#000"/>
<path d="M-7,-56.5 L-7,-61 L-4.5,-61 M4.5,-61 L7,-60 L7,-56.5" stroke="#fff" fill="none"/>
<line x1="-4" y1="-61" x2="4" y2="-61" stroke="#fff"/>
<rect x="-5.5" y="-45.5" width="11" height="12.5" fill="#fff" stroke="#fff"/>
<line x1="-4" y1="-43" x2="4" y2="-43" stroke="#000"/>
<line x1="-4" y1="-40" x2="4" y2="-40" stroke="#000"/>
<line x1="-4" y1="-37" x2="4" y2="-37" stroke="#000"/>
</g>
</g>
<g clip-path="url(#cpBot)">
<circle cx="258.7" cy="475" r="56" stroke="#ffffff" fill="none"/>
<circle cx="258.7" cy="475" r="46.5" stroke="#ffffff" fill="none"/>
<circle cx="258.7" cy="475" r="32.5" stroke="#ffffff" fill="none"/>
<g transform="translate(258.7 475) rotate(6.3)">
<path d="M-4.5,-56 L-4.5,-62.5 Q-4.5,-65.5 0,-65.5 Q4.5,-65.5 4.5,-62.5 L4.5,-56" stroke="#fff" fill="#000"/>
<path d="M-7,-56.5 L-7,-61 L-4.5,-61 M4.5,-61 L7,-60 L7,-56.5" stroke="#fff" fill="none"/>
<line x1="-4" y1="-61" x2="4" y2="-61" stroke="#fff"/>
<rect x="-5.5" y="-45.5" width="11" height="12.5" fill="#fff" stroke="#fff"/>
<line x1="-4" y1="-43" x2="4" y2="-43" stroke="#000"/>
<line x1="-4" y1="-40" x2="4" y2="-40" stroke="#000"/>
<line x1="-4" y1="-37" x2="4" y2="-37" stroke="#000"/>
</g>
<g transform="translate(258.7 475) rotate(34)">
<path d="M-4.5,-56 L-4.5,-62.5 Q-4.5,-65.5 0,-65.5 Q4.5,-65.5 4.5,-62.5 L4.5,-56" stroke="#fff" fill="#000"/>
<path d="M-7,-56.5 L-7,-61 L-4.5,-61 M4.5,-61 L7,-60 L7,-56.5" stroke="#fff" fill="none"/>
<line x1="-4" y1="-61" x2="4" y2="-61" stroke="#fff"/>
<rect x="-5.5" y="-45.5" width="11" height="12.5" fill="#fff" stroke="#fff"/>
<line x1="-4" y1="-43" x2="4" y2="-43" stroke="#000"/>
<line x1="-4" y1="-40" x2="4" y2="-40" stroke="#000"/>
<line x1="-4" y1="-37" x2="4" y2="-37" stroke="#000"/>
</g>
<g transform="translate(258.7 475) rotate(61.7)">
<rect x="-5.5" y="-45.5" width="11" height="12.5" fill="#fff" stroke="#fff"/>
<line x1="-4" y1="-43" x2="4" y2="-43" stroke="#000"/>
<line x1="-4" y1="-40" x2="4" y2="-40" stroke="#000"/>
<line x1="-4" y1="-37" x2="4" y2="-37" stroke="#000"/>
</g>
<g transform="translate(258.7 475) rotate(89.4)">
<rect x="-5.5" y="-45.5" width="11" height="12.5" fill="#fff" stroke="#fff"/>
<line x1="-4" y1="-43" x2="4" y2="-43" stroke="#000"/>
<line x1="-4" y1="-40" x2="4" y2="-40" stroke="#000"/>
<line x1="-4" y1="-37" x2="4" y2="-37" stroke="#000"/>
</g>
<g transform="translate(258.7 475) rotate(117.1)">
<rect x="-5.5" y="-45.5" width="11" height="12.5" fill="#fff" stroke="#fff"/>
<line x1="-4" y1="-43" x2="4" y2="-43" stroke="#000"/>
<line x1="-4" y1="-40" x2="4" y2="-40" stroke="#000"/>
<line x1="-4" y1="-37" x2="4" y2="-37" stroke="#000"/>
</g>
<g transform="translate(258.7 475) rotate(144.8)">
<path d="M-4.5,-56 L-4.5,-62.5 Q-4.5,-65.5 0,-65.5 Q4.5,-65.5 4.5,-62.5 L4.5,-56" stroke="#fff" fill="#000"/>
<path d="M-7,-56.5 L-7,-61 L-4.5,-61 M4.5,-61 L7,-60 L7,-56.5" stroke="#fff" fill="none"/>
<line x1="-4" y1="-61" x2="4" y2="-61" stroke="#fff"/>
<rect x="-5.5" y="-45.5" width="11" height="12.5" fill="#fff" stroke="#fff"/>
<line x1="-4" y1="-43" x2="4" y2="-43" stroke="#000"/>
<line x1="-4" y1="-40" x2="4" y2="-40" stroke="#000"/>
<line x1="-4" y1="-37" x2="4" y2="-37" stroke="#000"/>
</g>
<g transform="translate(258.7 475) rotate(172.5)">
<path d="M-4.5,-56 L-4.5,-62.5 Q-4.5,-65.5 0,-65.5 Q4.5,-65.5 4.5,-62.5 L4.5,-56" stroke="#fff" fill="#000"/>
<path d="M-7,-56.5 L-7,-61 L-4.5,-61 M4.5,-61 L7,-60 L7,-56.5" stroke="#fff" fill="none"/>
<line x1="-4" y1="-61" x2="4" y2="-61" stroke="#fff"/>
<rect x="-5.5" y="-45.5" width="11" height="12.5" fill="#fff" stroke="#fff"/>
<line x1="-4" y1="-43" x2="4" y2="-43" stroke="#000"/>
<line x1="-4" y1="-40" x2="4" y2="-40" stroke="#000"/>
<line x1="-4" y1="-37" x2="4" y2="-37" stroke="#000"/>
</g>
<g transform="translate(258.7 475) rotate(200.2)">
<path d="M-4.5,-56 L-4.5,-62.5 Q-4.5,-65.5 0,-65.5 Q4.5,-65.5 4.5,-62.5 L4.5,-56" stroke="#fff" fill="#000"/>
<path d="M-7,-56.5 L-7,-61 L-4.5,-61 M4.5,-61 L7,-60 L7,-56.5" stroke="#fff" fill="none"/>
<line x1="-4" y1="-61" x2="4" y2="-61" stroke="#fff"/>
<rect x="-5.5" y="-45.5" width="11" height="12.5" fill="#fff" stroke="#fff"/>
<line x1="-4" y1="-43" x2="4" y2="-43" stroke="#000"/>
<line x1="-4" y1="-40" x2="4" y2="-40" stroke="#000"/>
<line x1="-4" y1="-37" x2="4" y2="-37" stroke="#000"/>
</g>
<g transform="translate(258.7 475) rotate(227.9)">
<path d="M-4.5,-56 L-4.5,-62.5 Q-4.5,-65.5 0,-65.5 Q4.5,-65.5 4.5,-62.5 L4.5,-56" stroke="#fff" fill="#000"/>
<path d="M-7,-56.5 L-7,-61 L-4.5,-61 M4.5,-61 L7,-60 L7,-56.5" stroke="#fff" fill="none"/>
<line x1="-4" y1="-61" x2="4" y2="-61" stroke="#fff"/>
<rect x="-5.5" y="-45.5" width="11" height="12.5" fill="#fff" stroke="#fff"/>
<line x1="-4" y1="-43" x2="4" y2="-43" stroke="#000"/>
<line x1="-4" y1="-40" x2="4" y2="-40" stroke="#000"/>
<line x1="-4" y1="-37" x2="4" y2="-37" stroke="#000"/>
</g>
<g transform="translate(258.7 475) rotate(255.6)">
<rect x="-5.5" y="-45.5" width="11" height="12.5" fill="#fff" stroke="#fff"/>
<line x1="-4" y1="-43" x2="4" y2="-43" stroke="#000"/>
<line x1="-4" y1="-40" x2="4" y2="-40" stroke="#000"/>
<line x1="-4" y1="-37" x2="4" y2="-37" stroke="#000"/>
</g>
<g transform="translate(258.7 475) rotate(283.3)">
<rect x="-5.5" y="-45.5" width="11" height="12.5" fill="#fff" stroke="#fff"/>
<line x1="-4" y1="-43" x2="4" y2="-43" stroke="#000"/>
<line x1="-4" y1="-40" x2="4" y2="-40" stroke="#000"/>
<line x1="-4" y1="-37" x2="4" y2="-37" stroke="#000"/>
</g>
<g transform="translate(258.7 475) rotate(311)">
<path d="M-4.5,-56 L-4.5,-62.5 Q-4.5,-65.5 0,-65.5 Q4.5,-65.5 4.5,-62.5 L4.5,-56" stroke="#fff" fill="#000"/>
<path d="M-7,-56.5 L-7,-61 L-4.5,-61 M4.5,-61 L7,-60 L7,-56.5" stroke="#fff" fill="none"/>
<line x1="-4" y1="-61" x2="4" y2="-61" stroke="#fff"/>
<rect x="-5.5" y="-45.5" width="11" height="12.5" fill="#fff" stroke="#fff"/>
<line x1="-4" y1="-43" x2="4" y2="-43" stroke="#000"/>
<line x1="-4" y1="-40" x2="4" y2="-40" stroke="#000"/>
<line x1="-4" y1="-37" x2="4" y2="-37" stroke="#000"/>
</g>
<g transform="translate(258.7 475) rotate(338.7)">
<path d="M-4.5,-56 L-4.5,-62.5 Q-4.5,-65.5 0,-65.5 Q4.5,-65.5 4.5,-62.5 L4.5,-56" stroke="#fff" fill="#000"/>
<path d="M-7,-56.5 L-7,-61 L-4.5,-61 M4.5,-61 L7,-60 L7,-56.5" stroke="#fff" fill="none"/>
<line x1="-4" y1="-61" x2="4" y2="-61" stroke="#fff"/>
<rect x="-5.5" y="-45.5" width="11" height="12.5" fill="#fff" stroke="#fff"/>
<line x1="-4" y1="-43" x2="4" y2="-43" stroke="#000"/>
<line x1="-4" y1="-40" x2="4" y2="-40" stroke="#000"/>
<line x1="-4" y1="-37" x2="4" y2="-37" stroke="#000"/>
</g>
</g>
<circle cx="258.7" cy="475" r="12.1" stroke="#ffffff" fill="none"/>
<circle cx="149.3" cy="475" r="21.2" stroke="#ffffff" fill="none"/>
<circle cx="149.3" cy="475" r="20.2" stroke="#ffffff" fill="none"/>
<circle cx="149.3" cy="475" r="15.9" stroke="#ffffff" fill="none"/>
<circle cx="149.3" cy="475" r="11.8" stroke="#ffffff" fill="none"/>
<circle cx="149.3" cy="475" r="5.8" stroke="#ffffff" fill="none"/>
<circle cx="149.3" cy="475" r="3.8" stroke="#ffffff" fill="none"/>
<rect x="147.5" y="461.5" width="4" height="3" stroke="#ffffff" fill="none"/>
<rect x="147.5" y="485.5" width="4" height="3" stroke="#ffffff" fill="none"/>
<circle cx="367.7" cy="475" r="21.2" stroke="#ffffff" fill="none"/>
<circle cx="367.7" cy="475" r="20.2" stroke="#ffffff" fill="none"/>
<circle cx="367.7" cy="475" r="15.9" stroke="#ffffff" fill="none"/>
<circle cx="367.7" cy="475" r="11.8" stroke="#ffffff" fill="none"/>
<circle cx="367.7" cy="475" r="5.8" stroke="#ffffff" fill="none"/>
<circle cx="367.7" cy="475" r="3.8" stroke="#ffffff" fill="none"/>
<rect x="365.5" y="461.5" width="4" height="3" stroke="#ffffff" fill="none"/>
<rect x="365.5" y="485.5" width="4" height="3" stroke="#ffffff" fill="none"/>
<rect x="146" y="453" width="59" height="4" rx="2" fill="#fff" stroke="#fff" stroke-width="0.6" style="shape-rendering:auto"/>
<rect x="151" y="454.3" width="2" height="1.4" fill="#ff0000" stroke="none"/>
<rect x="157" y="454.3" width="2" height="1.4" fill="#ff0000" stroke="none"/>
<rect x="163" y="454.3" width="2" height="1.4" fill="#ff0000" stroke="none"/>
<rect x="169" y="454.3" width="2" height="1.4" fill="#ff0000" stroke="none"/>
<rect x="175" y="454.3" width="2" height="1.4" fill="#ff0000" stroke="none"/>
<rect x="181" y="454.3" width="2" height="1.4" fill="#ff0000" stroke="none"/>
<rect x="187" y="454.3" width="2" height="1.4" fill="#ff0000" stroke="none"/>
<rect x="193" y="454.3" width="2" height="1.4" fill="#ff0000" stroke="none"/>
<rect x="199" y="454.3" width="2" height="1.4" fill="#ff0000" stroke="none"/>
<rect x="312" y="453" width="58" height="4" rx="2" fill="#fff" stroke="#fff" stroke-width="0.6" style="shape-rendering:auto"/>
<rect x="317" y="454.3" width="2" height="1.4" fill="#ff0000" stroke="none"/>
<rect x="323" y="454.3" width="2" height="1.4" fill="#ff0000" stroke="none"/>
<rect x="329" y="454.3" width="2" height="1.4" fill="#ff0000" stroke="none"/>
<rect x="335" y="454.3" width="2" height="1.4" fill="#ff0000" stroke="none"/>
<rect x="341" y="454.3" width="2" height="1.4" fill="#ff0000" stroke="none"/>
<rect x="347" y="454.3" width="2" height="1.4" fill="#ff0000" stroke="none"/>
<rect x="353" y="454.3" width="2" height="1.4" fill="#ff0000" stroke="none"/>
<rect x="359" y="454.3" width="2" height="1.4" fill="#ff0000" stroke="none"/>
<rect x="365" y="454.3" width="2" height="1.4" fill="#ff0000" stroke="none"/>
<rect x="146" y="493.5" width="59" height="4" rx="2" fill="#fff" stroke="#fff" stroke-width="0.6" style="shape-rendering:auto"/>
<rect x="151" y="494.8" width="2" height="1.4" fill="#ff0000" stroke="none"/>
<rect x="157" y="494.8" width="2" height="1.4" fill="#ff0000" stroke="none"/>
<rect x="163" y="494.8" width="2" height="1.4" fill="#ff0000" stroke="none"/>
<rect x="169" y="494.8" width="2" height="1.4" fill="#ff0000" stroke="none"/>
<rect x="175" y="494.8" width="2" height="1.4" fill="#ff0000" stroke="none"/>
<rect x="181" y="494.8" width="2" height="1.4" fill="#ff0000" stroke="none"/>
<rect x="187" y="494.8" width="2" height="1.4" fill="#ff0000" stroke="none"/>
<rect x="193" y="494.8" width="2" height="1.4" fill="#ff0000" stroke="none"/>
<rect x="199" y="494.8" width="2" height="1.4" fill="#ff0000" stroke="none"/>
<rect x="312" y="493.5" width="58" height="4" rx="2" fill="#fff" stroke="#fff" stroke-width="0.6" style="shape-rendering:auto"/>
<rect x="317" y="494.8" width="2" height="1.4" fill="#ff0000" stroke="none"/>
<rect x="323" y="494.8" width="2" height="1.4" fill="#ff0000" stroke="none"/>
<rect x="329" y="494.8" width="2" height="1.4" fill="#ff0000" stroke="none"/>
<rect x="335" y="494.8" width="2" height="1.4" fill="#ff0000" stroke="none"/>
<rect x="341" y="494.8" width="2" height="1.4" fill="#ff0000" stroke="none"/>
<rect x="347" y="494.8" width="2" height="1.4" fill="#ff0000" stroke="none"/>
<rect x="353" y="494.8" width="2" height="1.4" fill="#ff0000" stroke="none"/>
<rect x="359" y="494.8" width="2" height="1.4" fill="#ff0000" stroke="none"/>
<rect x="365" y="494.8" width="2" height="1.4" fill="#ff0000" stroke="none"/>
<circle cx="178.6" cy="459.6" r="5.2" stroke="#ffffff" fill="none"/>
<circle cx="178.6" cy="459.6" r="4.4" stroke="#ffffff" fill="none"/>
<circle cx="178.6" cy="459.6" r="2.4" stroke="#ffffff" fill="none"/>
<circle cx="178.6" cy="490" r="5.2" stroke="#ffffff" fill="none"/>
<circle cx="178.6" cy="490" r="4.4" stroke="#ffffff" fill="none"/>
<circle cx="178.6" cy="490" r="2.4" stroke="#ffffff" fill="none"/>
<circle cx="338.6" cy="459.6" r="5.2" stroke="#ffffff" fill="none"/>
<circle cx="338.6" cy="459.6" r="4.4" stroke="#ffffff" fill="none"/>
<circle cx="338.6" cy="459.6" r="2.4" stroke="#ffffff" fill="none"/>
<circle cx="338.6" cy="490" r="5.2" stroke="#ffffff" fill="none"/>
<circle cx="338.6" cy="490" r="4.4" stroke="#ffffff" fill="none"/>
<circle cx="338.6" cy="490" r="2.4" stroke="#ffffff" fill="none"/>
<line x1="205" y1="454.5" x2="313" y2="454.5" stroke="#ff0000"/>
<line x1="205" y1="495.5" x2="313" y2="495.5" stroke="#ff0000"/>
<line x1="108" y1="475.5" x2="409" y2="475.5" stroke="#ff0000"/>
<line x1="367.5" y1="456" x2="367.5" y2="503" stroke="#ff0000"/>
<polyline points="78,85.7 80,86.2 227,137.7" stroke="#00ff00" fill="none"/>
<rect x="77" y="84.5" width="3" height="2" fill="#00ff00" stroke="none"/>
<rect x="227" y="136.5" width="2" height="2" fill="#00ff00" stroke="none"/>
<polyline points="77.5,128.5 85,129.5 142.5,146.5" stroke="#00ff00" fill="none"/>
<rect x="76" y="127.5" width="3" height="2" fill="#00ff00" stroke="none"/>
<rect x="142" y="145.5" width="2" height="2" fill="#00ff00" stroke="none"/>
<polyline points="78.5,158.5 84,159.5 255,227.5" stroke="#00ff00" fill="none"/>
<rect x="77" y="157.5" width="3" height="2" fill="#00ff00" stroke="none"/>
<rect x="255" y="226.5" width="2" height="2" fill="#00ff00" stroke="none"/>
<polyline points="78.5,225 84,225.5 128.5,242.5" stroke="#00ff00" fill="none"/>
<rect x="77" y="224.5" width="3" height="2" fill="#00ff00" stroke="none"/>
<rect x="128" y="241.5" width="2" height="2" fill="#00ff00" stroke="none"/>
<polyline points="78.5,258.5 82,260 140.5,324" stroke="#00ff00" fill="none"/>
<rect x="77" y="257.5" width="3" height="2" fill="#00ff00" stroke="none"/>
<rect x="140" y="323.5" width="2" height="2" fill="#00ff00" stroke="none"/>
<polyline points="79.5,306 82,307.5 118,349" stroke="#00ff00" fill="none"/>
<rect x="78" y="305.5" width="3" height="2" fill="#00ff00" stroke="none"/>
<rect x="118" y="348.5" width="2" height="2" fill="#00ff00" stroke="none"/>
<polyline points="473,54.8 393.5,68" stroke="#00ff00" fill="none"/>
<rect x="472" y="53.5" width="3" height="2" fill="#00ff00" stroke="none"/>
<rect x="393" y="67.5" width="2" height="2" fill="#00ff00" stroke="none"/>
<polyline points="473,81 391,74.5" stroke="#00ff00" fill="none"/>
<rect x="472" y="80.5" width="3" height="2" fill="#00ff00" stroke="none"/>
<rect x="391" y="73.5" width="2" height="2" fill="#00ff00" stroke="none"/>
<polyline points="473,100.6 282.5,96.5 260,95" stroke="#00ff00" fill="none"/>
<rect x="472" y="99.5" width="3" height="2" fill="#00ff00" stroke="none"/>
<rect x="260" y="94.5" width="2" height="2" fill="#00ff00" stroke="none"/>
<polyline points="473,109.8 308.5,125.5" stroke="#00ff00" fill="none"/>
<rect x="472" y="108.5" width="3" height="2" fill="#00ff00" stroke="none"/>
<rect x="308" y="124.5" width="2" height="2" fill="#00ff00" stroke="none"/>
<polyline points="473,117.6 325.5,140" stroke="#00ff00" fill="none"/>
<rect x="472" y="116.5" width="3" height="2" fill="#00ff00" stroke="none"/>
<rect x="325" y="139.5" width="2" height="2" fill="#00ff00" stroke="none"/>
<polyline points="473,123.6 372.5,140" stroke="#00ff00" fill="none"/>
<rect x="472" y="122.5" width="3" height="2" fill="#00ff00" stroke="none"/>
<rect x="372" y="139.5" width="2" height="2" fill="#00ff00" stroke="none"/>
<polyline points="473,135.9 341,171.5" stroke="#00ff00" fill="none"/>
<rect x="472" y="134.5" width="3" height="2" fill="#00ff00" stroke="none"/>
<rect x="341" y="170.5" width="2" height="2" fill="#00ff00" stroke="none"/>
<polyline points="473,148.5 370,171.5" stroke="#00ff00" fill="none"/>
<rect x="472" y="147.5" width="3" height="2" fill="#00ff00" stroke="none"/>
<rect x="370" y="170.5" width="2" height="2" fill="#00ff00" stroke="none"/>
<polyline points="473,183.9 394.5,218.5" stroke="#00ff00" fill="none"/>
<rect x="472" y="182.5" width="3" height="2" fill="#00ff00" stroke="none"/>
<rect x="394" y="217.5" width="2" height="2" fill="#00ff00" stroke="none"/>
<polyline points="473,211.3 272.5,259" stroke="#00ff00" fill="none"/>
<rect x="472" y="210.5" width="3" height="2" fill="#00ff00" stroke="none"/>
<rect x="272" y="258.5" width="2" height="2" fill="#00ff00" stroke="none"/>
<polyline points="473,245.3 279.5,295" stroke="#00ff00" fill="none"/>
<rect x="472" y="244.5" width="3" height="2" fill="#00ff00" stroke="none"/>
<rect x="279" y="294.5" width="2" height="2" fill="#00ff00" stroke="none"/>
<polyline points="473,304.9 278.5,363" stroke="#00ff00" fill="none"/>
<rect x="472" y="303.5" width="3" height="2" fill="#00ff00" stroke="none"/>
<rect x="278" y="362.5" width="2" height="2" fill="#00ff00" stroke="none"/>
<polyline points="472.5,411.8 289,442.5" stroke="#00ff00" fill="none"/>
<rect x="471" y="410.5" width="3" height="2" fill="#00ff00" stroke="none"/>
<rect x="289" y="441.5" width="2" height="2" fill="#00ff00" stroke="none"/>
<polyline points="472.5,426 341,460" stroke="#00ff00" fill="none"/>
<rect x="471" y="425.5" width="3" height="2" fill="#00ff00" stroke="none"/>
<rect x="341" y="459.5" width="2" height="2" fill="#00ff00" stroke="none"/>
<polyline points="472.5,470.6 295,524.5" stroke="#00ff00" fill="none"/>
<rect x="471" y="469.5" width="3" height="2" fill="#00ff00" stroke="none"/>
<rect x="295" y="523.5" width="2" height="2" fill="#00ff00" stroke="none"/>
<polyline points="188.8,25.5 185.8,25.5 155,53" stroke="#00ff00" fill="none"/>
<rect x="187" y="24.5" width="2" height="2" fill="#00ff00" stroke="none"/>
<polyline points="227,25.5 224,25.5 181.5,66.5" stroke="#00ff00" fill="none"/>
<rect x="226" y="24.5" width="2" height="2" fill="#00ff00" stroke="none"/>
<polyline points="259.5,25.5 256.5,25.5 223,56.5" stroke="#00ff00" fill="none"/>
<rect x="258" y="24.5" width="2" height="2" fill="#00ff00" stroke="none"/>
<polyline points="291.3,25.5 288.3,25.5 254,66.5" stroke="#00ff00" fill="none"/>
<rect x="290" y="24.5" width="2" height="2" fill="#00ff00" stroke="none"/>
<polyline points="295,25.5 292,25.5 259,68" stroke="#00ff00" fill="none"/>
<rect x="294" y="24.5" width="2" height="2" fill="#00ff00" stroke="none"/>
<polyline points="302,25.5 299,25.5 266,68" stroke="#00ff00" fill="none"/>
<rect x="301" y="24.5" width="2" height="2" fill="#00ff00" stroke="none"/>
<polyline points="308,25.5 305,25.5 272,70" stroke="#00ff00" fill="none"/>
<rect x="307" y="24.5" width="2" height="2" fill="#00ff00" stroke="none"/>
<polyline points="314,25.5 311,25.5 280,70" stroke="#00ff00" fill="none"/>
<rect x="313" y="24.5" width="2" height="2" fill="#00ff00" stroke="none"/>
<polyline points="328.5,25.5 325.5,25.5 305.8,73" stroke="#00ff00" fill="none"/>
<rect x="327" y="24.5" width="2" height="2" fill="#00ff00" stroke="none"/>
<polyline points="349,25.5 346,25.5 336.5,65.5" stroke="#00ff00" fill="none"/>
<rect x="348" y="24.5" width="2" height="2" fill="#00ff00" stroke="none"/>
<polyline points="383,25.5 380,25.5 367.5,49.5" stroke="#00ff00" fill="none"/>
<rect x="382" y="24.5" width="2" height="2" fill="#00ff00" stroke="none"/>
<text x="665" y="316.38" font-size="7.6" fill="#00ff00" text-anchor="middle" textLength="6.2" lengthAdjust="spacingAndGlyphs" font-weight="bold" stroke="#00ff00" stroke-width="0.85">32</text>
<text x="689.5" y="316.28" font-size="7.4" fill="#00ff00" text-anchor="middle" textLength="16.8" lengthAdjust="spacingAndGlyphs" font-weight="bold" stroke="#00ff00" stroke-width="0.85">ZPJ-32</text>
<text x="729" y="316.78" font-size="7.2" fill="#00ff00" text-anchor="middle" textLength="28" lengthAdjust="spacingAndGlyphs" font-weight="bold" stroke="#00ff00" stroke-width="0.6">电动机支架</text>
<text x="753.5" y="316.08" font-size="6.8" fill="#00ff00" text-anchor="middle" textLength="3" lengthAdjust="spacingAndGlyphs" stroke="#00ff00" stroke-width="0.3">1</text>
<text x="665" y="322.86" font-size="7.6" fill="#00ff00" text-anchor="middle" textLength="6.2" lengthAdjust="spacingAndGlyphs" font-weight="bold" stroke="#00ff00" stroke-width="0.85">31</text>
<text x="689.5" y="322.76" font-size="7.4" fill="#00ff00" text-anchor="middle" textLength="16.8" lengthAdjust="spacingAndGlyphs" font-weight="bold" stroke="#00ff00" stroke-width="0.85">ZPJ-31</text>
<text x="729" y="323.26" font-size="7.2" fill="#00ff00" text-anchor="middle" textLength="11.2" lengthAdjust="spacingAndGlyphs" font-weight="bold" stroke="#00ff00" stroke-width="0.6">箱体</text>
<text x="753.5" y="322.56" font-size="6.8" fill="#00ff00" text-anchor="middle" textLength="3" lengthAdjust="spacingAndGlyphs" stroke="#00ff00" stroke-width="0.3">1</text>
<text x="781.5" y="322.56" font-size="7" fill="#00ff00" text-anchor="middle" textLength="18" lengthAdjust="spacingAndGlyphs" stroke="#00ff00" stroke-width="0.35">HT200</text>
<text x="665" y="329.33" font-size="7.6" fill="#00ff00" text-anchor="middle" textLength="6.2" lengthAdjust="spacingAndGlyphs" font-weight="bold" stroke="#00ff00" stroke-width="0.85">30</text>
<text x="689.5" y="329.23" font-size="7.4" fill="#00ff00" text-anchor="middle" textLength="16.8" lengthAdjust="spacingAndGlyphs" font-weight="bold" stroke="#00ff00" stroke-width="0.85">Y90S-4</text>
<text x="729" y="329.73" font-size="7.2" fill="#00ff00" text-anchor="middle" textLength="16.8" lengthAdjust="spacingAndGlyphs" font-weight="bold" stroke="#00ff00" stroke-width="0.6">电动机</text>
<text x="753.5" y="329.03" font-size="6.8" fill="#00ff00" text-anchor="middle" textLength="3" lengthAdjust="spacingAndGlyphs" stroke="#00ff00" stroke-width="0.3">1</text>
<text x="665" y="335.81" font-size="7.6" fill="#00ff00" text-anchor="middle" textLength="6.2" lengthAdjust="spacingAndGlyphs" font-weight="bold" stroke="#00ff00" stroke-width="0.85">29</text>
<text x="689.5" y="335.71" font-size="7.4" fill="#00ff00" text-anchor="middle" textLength="39" lengthAdjust="spacingAndGlyphs" font-weight="bold" stroke="#00ff00" stroke-width="0.85">GB/T 5783-2000</text>
<text x="729" y="336.21" font-size="7.2" fill="#00ff00" text-anchor="middle" textLength="11.2" lengthAdjust="spacingAndGlyphs" font-weight="bold" stroke="#00ff00" stroke-width="0.6">螺栓</text>
<text x="753.5" y="335.51" font-size="6.8" fill="#00ff00" text-anchor="middle" textLength="3" lengthAdjust="spacingAndGlyphs" stroke="#00ff00" stroke-width="0.3">2</text>
<text x="781.5" y="335.51" font-size="7" fill="#00ff00" text-anchor="middle" textLength="14.7" lengthAdjust="spacingAndGlyphs" stroke="#00ff00" stroke-width="0.35">45钢</text>
<text x="665" y="342.29" font-size="7.6" fill="#00ff00" text-anchor="middle" textLength="6.2" lengthAdjust="spacingAndGlyphs" font-weight="bold" stroke="#00ff00" stroke-width="0.85">28</text>
<text x="689.5" y="342.19" font-size="7.4" fill="#00ff00" text-anchor="middle" textLength="16.8" lengthAdjust="spacingAndGlyphs" font-weight="bold" stroke="#00ff00" stroke-width="0.85">ZPJ-28</text>
<text x="729" y="342.69" font-size="7.2" fill="#00ff00" text-anchor="middle" textLength="16.8" lengthAdjust="spacingAndGlyphs" font-weight="bold" stroke="#00ff00" stroke-width="0.6">联轴器</text>
<text x="753.5" y="341.99" font-size="6.8" fill="#00ff00" text-anchor="middle" textLength="3" lengthAdjust="spacingAndGlyphs" stroke="#00ff00" stroke-width="0.3">1</text>
<text x="781.5" y="341.99" font-size="7" fill="#00ff00" text-anchor="middle" textLength="14.7" lengthAdjust="spacingAndGlyphs" stroke="#00ff00" stroke-width="0.35">45钢</text>
<text x="665" y="348.77" font-size="7.6" fill="#00ff00" text-anchor="middle" textLength="6.2" lengthAdjust="spacingAndGlyphs" font-weight="bold" stroke="#00ff00" stroke-width="0.85">27</text>
<text x="689.5" y="348.67" font-size="7.4" fill="#00ff00" text-anchor="middle" textLength="16.8" lengthAdjust="spacingAndGlyphs" font-weight="bold" stroke="#00ff00" stroke-width="0.85">ZPJ-27</text>
<text x="729" y="349.17" font-size="7.2" fill="#00ff00" text-anchor="middle" textLength="22.4" lengthAdjust="spacingAndGlyphs" font-weight="bold" stroke="#00ff00" stroke-width="0.6">输入主轴</text>
<text x="753.5" y="348.47" font-size="6.8" fill="#00ff00" text-anchor="middle" textLength="3" lengthAdjust="spacingAndGlyphs" stroke="#00ff00" stroke-width="0.3">1</text>
<text x="781.5" y="348.47" font-size="7" fill="#00ff00" text-anchor="middle" textLength="14.7" lengthAdjust="spacingAndGlyphs" stroke="#00ff00" stroke-width="0.35">45钢</text>
<text x="815" y="348.87" font-size="7.4" fill="#00ff00" text-anchor="middle" textLength="11" lengthAdjust="spacingAndGlyphs" font-weight="bold" stroke="#00ff00" stroke-width="0.5">调质</text>
<text x="665" y="355.25" font-size="7.6" fill="#00ff00" text-anchor="middle" textLength="6.2" lengthAdjust="spacingAndGlyphs" font-weight="bold" stroke="#00ff00" stroke-width="0.85">26</text>
<text x="689.5" y="355.15" font-size="7.4" fill="#00ff00" text-anchor="middle" textLength="16.8" lengthAdjust="spacingAndGlyphs" font-weight="bold" stroke="#00ff00" stroke-width="0.85">ZPJ-26</text>
<text x="729" y="355.65" font-size="7.2" fill="#00ff00" text-anchor="middle" textLength="16.8" lengthAdjust="spacingAndGlyphs" font-weight="bold" stroke="#00ff00" stroke-width="0.6">轴承座</text>
<text x="753.5" y="354.95" font-size="6.8" fill="#00ff00" text-anchor="middle" textLength="3" lengthAdjust="spacingAndGlyphs" stroke="#00ff00" stroke-width="0.3">2</text>
<text x="781.5" y="354.95" font-size="7" fill="#00ff00" text-anchor="middle" textLength="14.7" lengthAdjust="spacingAndGlyphs" stroke="#00ff00" stroke-width="0.35">45钢</text>
<text x="815" y="355.35" font-size="7.4" fill="#00ff00" text-anchor="middle" textLength="11" lengthAdjust="spacingAndGlyphs" font-weight="bold" stroke="#00ff00" stroke-width="0.5">调质</text>
<text x="665" y="361.73" font-size="7.6" fill="#00ff00" text-anchor="middle" textLength="6.2" lengthAdjust="spacingAndGlyphs" font-weight="bold" stroke="#00ff00" stroke-width="0.85">25</text>
<text x="689.5" y="361.62" font-size="7.4" fill="#00ff00" text-anchor="middle" textLength="39" lengthAdjust="spacingAndGlyphs" font-weight="bold" stroke="#00ff00" stroke-width="0.85">GB/T 6170-2000</text>
<text x="729" y="362.12" font-size="7.2" fill="#00ff00" text-anchor="middle" textLength="11.2" lengthAdjust="spacingAndGlyphs" font-weight="bold" stroke="#00ff00" stroke-width="0.6">螺母</text>
<text x="753.5" y="361.43" font-size="6.8" fill="#00ff00" text-anchor="middle" textLength="3" lengthAdjust="spacingAndGlyphs" stroke="#00ff00" stroke-width="0.3">4</text>
<text x="781.5" y="361.43" font-size="7" fill="#00ff00" text-anchor="middle" textLength="14.7" lengthAdjust="spacingAndGlyphs" stroke="#00ff00" stroke-width="0.35">45钢</text>
<text x="665" y="368.2" font-size="7.6" fill="#00ff00" text-anchor="middle" textLength="6.2" lengthAdjust="spacingAndGlyphs" font-weight="bold" stroke="#00ff00" stroke-width="0.85">24</text>
<text x="689.5" y="368.1" font-size="7.4" fill="#00ff00" text-anchor="middle" textLength="16.8" lengthAdjust="spacingAndGlyphs" font-weight="bold" stroke="#00ff00" stroke-width="0.85">ZPJ-24</text>
<text x="729" y="368.6" font-size="7.2" fill="#00ff00" text-anchor="middle" textLength="22.4" lengthAdjust="spacingAndGlyphs" font-weight="bold" stroke="#00ff00" stroke-width="0.6">主动链轮</text>
<text x="753.5" y="367.9" font-size="6.8" fill="#00ff00" text-anchor="middle" textLength="3" lengthAdjust="spacingAndGlyphs" stroke="#00ff00" stroke-width="0.3">1</text>
<text x="781.5" y="367.9" font-size="7" fill="#00ff00" text-anchor="middle" textLength="28.8" lengthAdjust="spacingAndGlyphs" stroke="#00ff00" stroke-width="0.35">20CrMnTi</text>
<text x="665" y="374.68" font-size="7.6" fill="#00ff00" text-anchor="middle" textLength="6.2" lengthAdjust="spacingAndGlyphs" font-weight="bold" stroke="#00ff00" stroke-width="0.85">23</text>
<text x="689.5" y="374.58" font-size="7.4" fill="#00ff00" text-anchor="middle" textLength="16.8" lengthAdjust="spacingAndGlyphs" font-weight="bold" stroke="#00ff00" stroke-width="0.85">ZPJ-23</text>
<text x="729" y="375.08" font-size="7.2" fill="#00ff00" text-anchor="middle" textLength="22.4" lengthAdjust="spacingAndGlyphs" font-weight="bold" stroke="#00ff00" stroke-width="0.6">从动链轮</text>
<text x="753.5" y="374.38" font-size="6.8" fill="#00ff00" text-anchor="middle" textLength="3" lengthAdjust="spacingAndGlyphs" stroke="#00ff00" stroke-width="0.3">1</text>
<text x="781.5" y="374.38" font-size="7" fill="#00ff00" text-anchor="middle" textLength="14.7" lengthAdjust="spacingAndGlyphs" stroke="#00ff00" stroke-width="0.35">45钢</text>
<text x="665" y="381.16" font-size="7.6" fill="#00ff00" text-anchor="middle" textLength="6.2" lengthAdjust="spacingAndGlyphs" font-weight="bold" stroke="#00ff00" stroke-width="0.85">22</text>
<text x="689.5" y="381.06" font-size="7.4" fill="#00ff00" text-anchor="middle" textLength="16.8" lengthAdjust="spacingAndGlyphs" font-weight="bold" stroke="#00ff00" stroke-width="0.85">ZPJ-22</text>
<text x="729" y="381.56" font-size="7.2" fill="#00ff00" text-anchor="middle" textLength="11.2" lengthAdjust="spacingAndGlyphs" font-weight="bold" stroke="#00ff00" stroke-width="0.6">立柱</text>
<text x="753.5" y="380.86" font-size="6.8" fill="#00ff00" text-anchor="middle" textLength="3" lengthAdjust="spacingAndGlyphs" stroke="#00ff00" stroke-width="0.3">4</text>
<text x="665" y="387.64" font-size="7.6" fill="#00ff00" text-anchor="middle" textLength="6.2" lengthAdjust="spacingAndGlyphs" font-weight="bold" stroke="#00ff00" stroke-width="0.85">21</text>
<text x="689.5" y="387.54" font-size="7.4" fill="#00ff00" text-anchor="middle" textLength="16.8" lengthAdjust="spacingAndGlyphs" font-weight="bold" stroke="#00ff00" stroke-width="0.85">ZPJ-21</text>
<text x="729" y="388.04" font-size="7.2" fill="#00ff00" text-anchor="middle" textLength="11.2" lengthAdjust="spacingAndGlyphs" font-weight="bold" stroke="#00ff00" stroke-width="0.6">横梁</text>
<text x="753.5" y="387.34" font-size="6.8" fill="#00ff00" text-anchor="middle" textLength="3" lengthAdjust="spacingAndGlyphs" stroke="#00ff00" stroke-width="0.3">5</text>
<text x="781.5" y="387.34" font-size="7" fill="#00ff00" text-anchor="middle" textLength="14.4" lengthAdjust="spacingAndGlyphs" stroke="#00ff00" stroke-width="0.35">Q235</text>
<text x="665" y="394.12" font-size="7.6" fill="#00ff00" text-anchor="middle" textLength="6.2" lengthAdjust="spacingAndGlyphs" font-weight="bold" stroke="#00ff00" stroke-width="0.85">20</text>
<text x="689.5" y="394.02" font-size="7.4" fill="#00ff00" text-anchor="middle" textLength="36.4" lengthAdjust="spacingAndGlyphs" font-weight="bold" stroke="#00ff00" stroke-width="0.85">GB/T 276-1994</text>
<text x="729" y="394.52" font-size="7.2" fill="#00ff00" text-anchor="middle" textLength="34" lengthAdjust="spacingAndGlyphs" font-weight="bold" stroke="#00ff00" stroke-width="0.6">深沟球轴承6204</text>
<text x="753.5" y="393.82" font-size="6.8" fill="#00ff00" text-anchor="middle" textLength="3" lengthAdjust="spacingAndGlyphs" stroke="#00ff00" stroke-width="0.3">2</text>
<text x="665" y="400.59" font-size="7.6" fill="#00ff00" text-anchor="middle" textLength="6.2" lengthAdjust="spacingAndGlyphs" font-weight="bold" stroke="#00ff00" stroke-width="0.85">19</text>
<text x="689.5" y="400.49" font-size="7.4" fill="#00ff00" text-anchor="middle" textLength="16.8" lengthAdjust="spacingAndGlyphs" font-weight="bold" stroke="#00ff00" stroke-width="0.85">ZPJ-19</text>
<text x="729" y="400.99" font-size="7.2" fill="#00ff00" text-anchor="middle" textLength="16.8" lengthAdjust="spacingAndGlyphs" font-weight="bold" stroke="#00ff00" stroke-width="0.6">中间板</text>
<text x="753.5" y="400.29" font-size="6.8" fill="#00ff00" text-anchor="middle" textLength="3" lengthAdjust="spacingAndGlyphs" stroke="#00ff00" stroke-width="0.3">1</text>
<text x="781.5" y="400.29" font-size="7" fill="#00ff00" text-anchor="middle" textLength="18" lengthAdjust="spacingAndGlyphs" stroke="#00ff00" stroke-width="0.35">HT150</text>
<text x="665" y="407.07" font-size="7.6" fill="#00ff00" text-anchor="middle" textLength="6.2" lengthAdjust="spacingAndGlyphs" font-weight="bold" stroke="#00ff00" stroke-width="0.85">18</text>
<text x="689.5" y="406.97" font-size="7.4" fill="#00ff00" text-anchor="middle" textLength="16.8" lengthAdjust="spacingAndGlyphs" font-weight="bold" stroke="#00ff00" stroke-width="0.85">ZPJ-18</text>
<text x="729" y="407.47" font-size="7.2" fill="#00ff00" text-anchor="middle" textLength="11.2" lengthAdjust="spacingAndGlyphs" font-weight="bold" stroke="#00ff00" stroke-width="0.6">顶板</text>
<text x="753.5" y="406.77" font-size="6.8" fill="#00ff00" text-anchor="middle" textLength="3" lengthAdjust="spacingAndGlyphs" stroke="#00ff00" stroke-width="0.3">2</text>
<text x="781.5" y="406.77" font-size="7" fill="#00ff00" text-anchor="middle" textLength="18" lengthAdjust="spacingAndGlyphs" stroke="#00ff00" stroke-width="0.35">Q235A</text>
<text x="665" y="413.55" font-size="7.6" fill="#00ff00" text-anchor="middle" textLength="6.2" lengthAdjust="spacingAndGlyphs" font-weight="bold" stroke="#00ff00" stroke-width="0.85">17</text>
<text x="689.5" y="413.45" font-size="7.4" fill="#00ff00" text-anchor="middle" textLength="33.6" lengthAdjust="spacingAndGlyphs" font-weight="bold" stroke="#00ff00" stroke-width="0.85">GB/T 93-1987</text>
<text x="729" y="413.95" font-size="7.2" fill="#00ff00" text-anchor="middle" textLength="11.2" lengthAdjust="spacingAndGlyphs" font-weight="bold" stroke="#00ff00" stroke-width="0.6">垫圈</text>
<text x="753.5" y="413.25" font-size="6.8" fill="#00ff00" text-anchor="middle" textLength="3" lengthAdjust="spacingAndGlyphs" stroke="#00ff00" stroke-width="0.3">8</text>
<text x="781.5" y="413.25" font-size="7" fill="#00ff00" text-anchor="middle" textLength="14.4" lengthAdjust="spacingAndGlyphs" stroke="#00ff00" stroke-width="0.35">65Mn</text>
<text x="665" y="420.03" font-size="7.6" fill="#00ff00" text-anchor="middle" textLength="6.2" lengthAdjust="spacingAndGlyphs" font-weight="bold" stroke="#00ff00" stroke-width="0.85">16</text>
<text x="689.5" y="419.93" font-size="7.4" fill="#00ff00" text-anchor="middle" textLength="39" lengthAdjust="spacingAndGlyphs" font-weight="bold" stroke="#00ff00" stroke-width="0.85">GB/T 1243-1997</text>
<text x="729" y="420.43" font-size="7.2" fill="#00ff00" text-anchor="middle" textLength="11.2" lengthAdjust="spacingAndGlyphs" font-weight="bold" stroke="#00ff00" stroke-width="0.6">链条</text>
<text x="753.5" y="419.73" font-size="6.8" fill="#00ff00" text-anchor="middle" textLength="3" lengthAdjust="spacingAndGlyphs" stroke="#00ff00" stroke-width="0.3">2</text>
<text x="781.5" y="419.73" font-size="7" fill="#00ff00" text-anchor="middle" textLength="18" lengthAdjust="spacingAndGlyphs" stroke="#00ff00" stroke-width="0.35">HT200</text>
<text x="665" y="426.51" font-size="7.6" fill="#00ff00" text-anchor="middle" textLength="6.2" lengthAdjust="spacingAndGlyphs" font-weight="bold" stroke="#00ff00" stroke-width="0.85">15</text>
<text x="689.5" y="426.41" font-size="7.4" fill="#00ff00" text-anchor="middle" textLength="36.4" lengthAdjust="spacingAndGlyphs" font-weight="bold" stroke="#00ff00" stroke-width="0.85">GB/T 894.1-86</text>
<text x="729" y="426.91" font-size="7.2" fill="#00ff00" text-anchor="middle" textLength="11.2" lengthAdjust="spacingAndGlyphs" font-weight="bold" stroke="#00ff00" stroke-width="0.6">挡圈</text>
<text x="753.5" y="426.21" font-size="6.8" fill="#00ff00" text-anchor="middle" textLength="3" lengthAdjust="spacingAndGlyphs" stroke="#00ff00" stroke-width="0.3">6</text>
<text x="776.5" y="426.21" font-size="7" fill="#00ff00" text-anchor="middle" textLength="14.4" lengthAdjust="spacingAndGlyphs" stroke="#00ff00" stroke-width="0.35">Q235</text>
<text x="665" y="432.98" font-size="7.6" fill="#00ff00" text-anchor="middle" textLength="6.2" lengthAdjust="spacingAndGlyphs" font-weight="bold" stroke="#00ff00" stroke-width="0.85">14</text>
<text x="689.5" y="432.88" font-size="7.4" fill="#00ff00" text-anchor="middle" textLength="36.4" lengthAdjust="spacingAndGlyphs" font-weight="bold" stroke="#00ff00" stroke-width="0.85">GB/T 297-1994</text>
<text x="729" y="433.38" font-size="7.2" fill="#00ff00" text-anchor="middle" textLength="33.6" lengthAdjust="spacingAndGlyphs" font-weight="bold" stroke="#00ff00" stroke-width="0.6">圆锥滚子轴承</text>
<text x="753.5" y="432.68" font-size="6.8" fill="#00ff00" text-anchor="middle" textLength="3" lengthAdjust="spacingAndGlyphs" stroke="#00ff00" stroke-width="0.3">6</text>
<text x="665" y="439.46" font-size="7.6" fill="#00ff00" text-anchor="middle" textLength="6.2" lengthAdjust="spacingAndGlyphs" font-weight="bold" stroke="#00ff00" stroke-width="0.85">13</text>
<text x="689.5" y="439.36" font-size="7.4" fill="#00ff00" text-anchor="middle" textLength="16.8" lengthAdjust="spacingAndGlyphs" font-weight="bold" stroke="#00ff00" stroke-width="0.85">ZPJ-13</text>
<text x="729" y="439.86" font-size="7.2" fill="#00ff00" text-anchor="middle" textLength="22.4" lengthAdjust="spacingAndGlyphs" font-weight="bold" stroke="#00ff00" stroke-width="0.6">轴承端盖</text>
<text x="753.5" y="439.16" font-size="6.8" fill="#00ff00" text-anchor="middle" textLength="3" lengthAdjust="spacingAndGlyphs" stroke="#00ff00" stroke-width="0.3">2</text>
<text x="776.5" y="439.16" font-size="7" fill="#00ff00" text-anchor="middle" textLength="14.7" lengthAdjust="spacingAndGlyphs" stroke="#00ff00" stroke-width="0.35">45钢</text>
<text x="665" y="445.94" font-size="7.6" fill="#00ff00" text-anchor="middle" textLength="6.2" lengthAdjust="spacingAndGlyphs" font-weight="bold" stroke="#00ff00" stroke-width="0.85">12</text>
<text x="689.5" y="445.84" font-size="7.4" fill="#00ff00" text-anchor="middle" textLength="33.6" lengthAdjust="spacingAndGlyphs" font-weight="bold" stroke="#00ff00" stroke-width="0.85">GB/T 1096-79</text>
<text x="729" y="446.34" font-size="7.2" fill="#00ff00" text-anchor="middle" textLength="11.2" lengthAdjust="spacingAndGlyphs" font-weight="bold" stroke="#00ff00" stroke-width="0.6">平键</text>
<text x="753.5" y="445.64" font-size="6.8" fill="#00ff00" text-anchor="middle" textLength="3" lengthAdjust="spacingAndGlyphs" stroke="#00ff00" stroke-width="0.3">1</text>
<text x="776.5" y="445.64" font-size="7" fill="#00ff00" text-anchor="middle" textLength="14.7" lengthAdjust="spacingAndGlyphs" stroke="#00ff00" stroke-width="0.35">45钢</text>
<text x="665" y="452.42" font-size="7.6" fill="#00ff00" text-anchor="middle" textLength="6.2" lengthAdjust="spacingAndGlyphs" font-weight="bold" stroke="#00ff00" stroke-width="0.85">11</text>
<text x="689.5" y="452.32" font-size="7.4" fill="#00ff00" text-anchor="middle" textLength="16.8" lengthAdjust="spacingAndGlyphs" font-weight="bold" stroke="#00ff00" stroke-width="0.85">ZPJ-11</text>
<text x="729" y="452.82" font-size="7.2" fill="#00ff00" text-anchor="middle" textLength="11.2" lengthAdjust="spacingAndGlyphs" font-weight="bold" stroke="#00ff00" stroke-width="0.6">套筒</text>
<text x="753.5" y="452.12" font-size="6.8" fill="#00ff00" text-anchor="middle" textLength="3" lengthAdjust="spacingAndGlyphs" stroke="#00ff00" stroke-width="0.3">2</text>
<text x="776.5" y="452.12" font-size="7" fill="#00ff00" text-anchor="middle" textLength="14.7" lengthAdjust="spacingAndGlyphs" stroke="#00ff00" stroke-width="0.35">45钢</text>
<text x="665" y="458.9" font-size="7.6" fill="#00ff00" text-anchor="middle" textLength="6.2" lengthAdjust="spacingAndGlyphs" font-weight="bold" stroke="#00ff00" stroke-width="0.85">10</text>
<text x="689.5" y="458.8" font-size="7.4" fill="#00ff00" text-anchor="middle" textLength="39" lengthAdjust="spacingAndGlyphs" font-weight="bold" stroke="#00ff00" stroke-width="0.85">GB/T 5782-2000</text>
<text x="729" y="459.3" font-size="7.2" fill="#00ff00" text-anchor="middle" textLength="11.2" lengthAdjust="spacingAndGlyphs" font-weight="bold" stroke="#00ff00" stroke-width="0.6">螺栓</text>
<text x="753.5" y="458.6" font-size="6.8" fill="#00ff00" text-anchor="middle" textLength="3" lengthAdjust="spacingAndGlyphs" stroke="#00ff00" stroke-width="0.3">2</text>
<text x="776.5" y="458.6" font-size="7" fill="#00ff00" text-anchor="middle" textLength="14.7" lengthAdjust="spacingAndGlyphs" stroke="#00ff00" stroke-width="0.35">45钢</text>
<text x="665" y="465.38" font-size="7.6" fill="#00ff00" text-anchor="middle" textLength="3.1" lengthAdjust="spacingAndGlyphs" font-weight="bold" stroke="#00ff00" stroke-width="0.85">9</text>
<text x="689.5" y="465.27" font-size="7.4" fill="#00ff00" text-anchor="middle" textLength="14" lengthAdjust="spacingAndGlyphs" font-weight="bold" stroke="#00ff00" stroke-width="0.85">ZPJ-9</text>
<text x="729" y="465.77" font-size="7.2" fill="#00ff00" text-anchor="middle" textLength="16.8" lengthAdjust="spacingAndGlyphs" font-weight="bold" stroke="#00ff00" stroke-width="0.6">导向杆</text>
<text x="753.5" y="465.07" font-size="6.8" fill="#00ff00" text-anchor="middle" textLength="3" lengthAdjust="spacingAndGlyphs" stroke="#00ff00" stroke-width="0.3">4</text>
<text x="776.5" y="465.07" font-size="7" fill="#00ff00" text-anchor="middle" textLength="14.7" lengthAdjust="spacingAndGlyphs" stroke="#00ff00" stroke-width="0.35">45钢</text>
<text x="665" y="471.85" font-size="7.6" fill="#00ff00" text-anchor="middle" textLength="3.1" lengthAdjust="spacingAndGlyphs" font-weight="bold" stroke="#00ff00" stroke-width="0.85">8</text>
<text x="689.5" y="471.75" font-size="7.4" fill="#00ff00" text-anchor="middle" textLength="14" lengthAdjust="spacingAndGlyphs" font-weight="bold" stroke="#00ff00" stroke-width="0.85">ZPJ-8</text>
<text x="729" y="472.25" font-size="7.2" fill="#00ff00" text-anchor="middle" textLength="22.4" lengthAdjust="spacingAndGlyphs" font-weight="bold" stroke="#00ff00" stroke-width="0.6">锥形压盘</text>
<text x="753.5" y="471.55" font-size="6.8" fill="#00ff00" text-anchor="middle" textLength="3" lengthAdjust="spacingAndGlyphs" stroke="#00ff00" stroke-width="0.3">1</text>
<text x="776.5" y="471.55" font-size="7" fill="#00ff00" text-anchor="middle" textLength="14.7" lengthAdjust="spacingAndGlyphs" stroke="#00ff00" stroke-width="0.35">45钢</text>
<text x="815" y="471.95" font-size="7.4" fill="#00ff00" text-anchor="middle" textLength="11" lengthAdjust="spacingAndGlyphs" font-weight="bold" stroke="#00ff00" stroke-width="0.5">调质</text>
<text x="665" y="478.33" font-size="7.6" fill="#00ff00" text-anchor="middle" textLength="3.1" lengthAdjust="spacingAndGlyphs" font-weight="bold" stroke="#00ff00" stroke-width="0.85">7</text>
<text x="689.5" y="478.23" font-size="7.4" fill="#00ff00" text-anchor="middle" textLength="14" lengthAdjust="spacingAndGlyphs" font-weight="bold" stroke="#00ff00" stroke-width="0.85">ZPJ-7</text>
<text x="729" y="478.73" font-size="7.2" fill="#00ff00" text-anchor="middle" textLength="11.2" lengthAdjust="spacingAndGlyphs" font-weight="bold" stroke="#00ff00" stroke-width="0.6">滑块</text>
<text x="753.5" y="478.03" font-size="6.8" fill="#00ff00" text-anchor="middle" textLength="3" lengthAdjust="spacingAndGlyphs" stroke="#00ff00" stroke-width="0.3">4</text>
<text x="776.5" y="478.03" font-size="7" fill="#00ff00" text-anchor="middle" textLength="14.7" lengthAdjust="spacingAndGlyphs" stroke="#00ff00" stroke-width="0.35">45钢</text>
<text x="665" y="484.81" font-size="7.6" fill="#00ff00" text-anchor="middle" textLength="3.1" lengthAdjust="spacingAndGlyphs" font-weight="bold" stroke="#00ff00" stroke-width="0.85">6</text>
<text x="689.5" y="484.71" font-size="7.4" fill="#00ff00" text-anchor="middle" textLength="14" lengthAdjust="spacingAndGlyphs" font-weight="bold" stroke="#00ff00" stroke-width="0.85">ZPJ-6</text>
<text x="729" y="485.21" font-size="7.2" fill="#00ff00" text-anchor="middle" textLength="28" lengthAdjust="spacingAndGlyphs" font-weight="bold" stroke="#00ff00" stroke-width="0.6">夹具连接板</text>
<text x="753.5" y="484.51" font-size="6.8" fill="#00ff00" text-anchor="middle" textLength="3" lengthAdjust="spacingAndGlyphs" stroke="#00ff00" stroke-width="0.3">3</text>
<text x="776.5" y="484.51" font-size="7" fill="#00ff00" text-anchor="middle" textLength="14.7" lengthAdjust="spacingAndGlyphs" stroke="#00ff00" stroke-width="0.35">45钢</text>
<text x="665" y="491.29" font-size="7.6" fill="#00ff00" text-anchor="middle" textLength="3.1" lengthAdjust="spacingAndGlyphs" font-weight="bold" stroke="#00ff00" stroke-width="0.85">5</text>
<text x="689.5" y="491.19" font-size="7.4" fill="#00ff00" text-anchor="middle" textLength="39" lengthAdjust="spacingAndGlyphs" font-weight="bold" stroke="#00ff00" stroke-width="0.85">GB/T 5783-2000</text>
<text x="729" y="491.69" font-size="7.2" fill="#00ff00" text-anchor="middle" textLength="11.2" lengthAdjust="spacingAndGlyphs" font-weight="bold" stroke="#00ff00" stroke-width="0.6">螺栓</text>
<text x="753.5" y="490.99" font-size="6.8" fill="#00ff00" text-anchor="middle" textLength="6" lengthAdjust="spacingAndGlyphs" stroke="#00ff00" stroke-width="0.3">12</text>
<text x="776.5" y="490.99" font-size="7" fill="#00ff00" text-anchor="middle" textLength="14.7" lengthAdjust="spacingAndGlyphs" stroke="#00ff00" stroke-width="0.35">45钢</text>
<text x="665" y="497.77" font-size="7.6" fill="#00ff00" text-anchor="middle" textLength="3.1" lengthAdjust="spacingAndGlyphs" font-weight="bold" stroke="#00ff00" stroke-width="0.85">4</text>
<text x="689.5" y="497.67" font-size="7.4" fill="#00ff00" text-anchor="middle" textLength="22.4" lengthAdjust="spacingAndGlyphs" font-weight="bold" stroke="#00ff00" stroke-width="0.85">ZPJ-04-1</text>
<text x="729" y="498.17" font-size="7.2" fill="#00ff00" text-anchor="middle" textLength="11.2" lengthAdjust="spacingAndGlyphs" font-weight="bold" stroke="#00ff00" stroke-width="0.6">销轴</text>
<text x="753.5" y="497.47" font-size="6.8" fill="#00ff00" text-anchor="middle" textLength="3" lengthAdjust="spacingAndGlyphs" stroke="#00ff00" stroke-width="0.3">1</text>
<text x="665" y="504.24" font-size="7.6" fill="#00ff00" text-anchor="middle" textLength="3.1" lengthAdjust="spacingAndGlyphs" font-weight="bold" stroke="#00ff00" stroke-width="0.85">3</text>
<text x="689.5" y="504.14" font-size="7.4" fill="#00ff00" text-anchor="middle" textLength="28" lengthAdjust="spacingAndGlyphs" font-weight="bold" stroke="#00ff00" stroke-width="0.85">GB/T 93-87</text>
<text x="729" y="504.64" font-size="7.2" fill="#00ff00" text-anchor="middle" textLength="11.2" lengthAdjust="spacingAndGlyphs" font-weight="bold" stroke="#00ff00" stroke-width="0.6">垫圈</text>
<text x="753.5" y="503.94" font-size="6.8" fill="#00ff00" text-anchor="middle" textLength="6" lengthAdjust="spacingAndGlyphs" stroke="#00ff00" stroke-width="0.3">13</text>
<text x="776.5" y="503.94" font-size="7" fill="#00ff00" text-anchor="middle" textLength="14.4" lengthAdjust="spacingAndGlyphs" stroke="#00ff00" stroke-width="0.35">65Mn</text>
<text x="665" y="510.72" font-size="7.6" fill="#00ff00" text-anchor="middle" textLength="3.1" lengthAdjust="spacingAndGlyphs" font-weight="bold" stroke="#00ff00" stroke-width="0.85">2</text>
<text x="689.5" y="510.62" font-size="7.4" fill="#00ff00" text-anchor="middle" textLength="39" lengthAdjust="spacingAndGlyphs" font-weight="bold" stroke="#00ff00" stroke-width="0.85">GB/T 6170-2000</text>
<text x="729" y="511.12" font-size="7.2" fill="#00ff00" text-anchor="middle" textLength="11.2" lengthAdjust="spacingAndGlyphs" font-weight="bold" stroke="#00ff00" stroke-width="0.6">螺母</text>
<text x="753.5" y="510.42" font-size="6.8" fill="#00ff00" text-anchor="middle" textLength="3" lengthAdjust="spacingAndGlyphs" stroke="#00ff00" stroke-width="0.3">4</text>
<text x="776.5" y="510.42" font-size="7" fill="#00ff00" text-anchor="middle" textLength="14.7" lengthAdjust="spacingAndGlyphs" stroke="#00ff00" stroke-width="0.35">45钢</text>
<text x="665" y="517.2" font-size="7.6" fill="#00ff00" text-anchor="middle" textLength="3.1" lengthAdjust="spacingAndGlyphs" font-weight="bold" stroke="#00ff00" stroke-width="0.85">1</text>
<text x="689.5" y="517.1" font-size="7.4" fill="#00ff00" text-anchor="middle" textLength="39" lengthAdjust="spacingAndGlyphs" font-weight="bold" stroke="#00ff00" stroke-width="0.85">GB/T 5783-2000</text>
<text x="729" y="517.6" font-size="7.2" fill="#00ff00" text-anchor="middle" textLength="11.2" lengthAdjust="spacingAndGlyphs" font-weight="bold" stroke="#00ff00" stroke-width="0.6">螺栓</text>
<text x="753.5" y="516.9" font-size="6.8" fill="#00ff00" text-anchor="middle" textLength="6" lengthAdjust="spacingAndGlyphs" stroke="#00ff00" stroke-width="0.3">12</text>
<text x="776.5" y="516.9" font-size="7" fill="#00ff00" text-anchor="middle" textLength="14.7" lengthAdjust="spacingAndGlyphs" stroke="#00ff00" stroke-width="0.35">45钢</text>
<line x1="661" y1="310.5" x2="829" y2="310.5" stroke="#00ff00"/>
<line x1="661" y1="316.5" x2="829" y2="316.5" stroke="#00ff00"/>
<line x1="661" y1="323.5" x2="829" y2="323.5" stroke="#00ff00"/>
<line x1="661" y1="329.5" x2="829" y2="329.5" stroke="#00ff00"/>
<line x1="661" y1="336.5" x2="829" y2="336.5" stroke="#00ff00"/>
<line x1="661" y1="342.5" x2="829" y2="342.5" stroke="#00ff00"/>
<line x1="661" y1="349.5" x2="829" y2="349.5" stroke="#00ff00"/>
<line x1="661" y1="355.5" x2="829" y2="355.5" stroke="#00ff00"/>
<line x1="661" y1="362.5" x2="829" y2="362.5" stroke="#00ff00"/>
<line x1="661" y1="368.5" x2="829" y2="368.5" stroke="#00ff00"/>
<line x1="661" y1="375.5" x2="829" y2="375.5" stroke="#00ff00"/>
<line x1="661" y1="381.5" x2="829" y2="381.5" stroke="#00ff00"/>
<line x1="661" y1="388.5" x2="829" y2="388.5" stroke="#00ff00"/>
<line x1="661" y1="394.5" x2="829" y2="394.5" stroke="#00ff00"/>
<line x1="661" y1="401.5" x2="829" y2="401.5" stroke="#00ff00"/>
<line x1="661" y1="407.5" x2="829" y2="407.5" stroke="#00ff00"/>
<line x1="661" y1="414.5" x2="829" y2="414.5" stroke="#00ff00"/>
<line x1="661" y1="420.5" x2="829" y2="420.5" stroke="#00ff00"/>
<line x1="661" y1="427.5" x2="829" y2="427.5" stroke="#00ff00"/>
<line x1="661" y1="433.5" x2="829" y2="433.5" stroke="#00ff00"/>
<line x1="661" y1="440.5" x2="829" y2="440.5" stroke="#00ff00"/>
<line x1="661" y1="446.5" x2="829" y2="446.5" stroke="#00ff00"/>
<line x1="661" y1="453.5" x2="829" y2="453.5" stroke="#00ff00"/>
<line x1="661" y1="459.5" x2="829" y2="459.5" stroke="#00ff00"/>
<line x1="661" y1="465.5" x2="829" y2="465.5" stroke="#00ff00"/>
<line x1="661" y1="472.5" x2="829" y2="472.5" stroke="#00ff00"/>
<line x1="661" y1="478.5" x2="829" y2="478.5" stroke="#00ff00"/>
<line x1="661" y1="485.5" x2="829" y2="485.5" stroke="#00ff00"/>
<line x1="661" y1="491.5" x2="829" y2="491.5" stroke="#00ff00"/>
<line x1="661" y1="498.5" x2="829" y2="498.5" stroke="#00ff00"/>
<line x1="661" y1="504.5" x2="829" y2="504.5" stroke="#00ff00"/>
<line x1="661" y1="511.5" x2="829" y2="511.5" stroke="#00ff00"/>
<line x1="661" y1="517.5" x2="829" y2="517.5" stroke="#00ff00"/>
<line x1="668.5" y1="310" x2="668.5" y2="532" stroke="#00ff00"/>
<line x1="710.5" y1="310" x2="710.5" y2="532" stroke="#00ff00"/>
<line x1="747.5" y1="310" x2="747.5" y2="532" stroke="#00ff00"/>
<line x1="759.5" y1="310" x2="759.5" y2="532" stroke="#00ff00"/>
<line x1="801.5" y1="310" x2="801.5" y2="532" stroke="#00ff00"/>
<line x1="828.5" y1="482" x2="828.5" y2="584" stroke="#00ff00"/>
<line x1="661" y1="310.5" x2="829" y2="310.5" stroke="#ffffff"/>
<line x1="661.5" y1="310" x2="661.5" y2="584" stroke="#ffffff"/>
<text x="665" y="523.6" font-size="4.6" fill="#00ff00" text-anchor="middle" font-weight="bold" stroke="#00ff00" stroke-width="0.3">序</text>
<text x="665" y="530" font-size="4.6" fill="#00ff00" text-anchor="middle" font-weight="bold" stroke="#00ff00" stroke-width="0.3">号</text>
<text x="687" y="527.3" font-size="5" fill="#00ff00" text-anchor="middle" textLength="10.5" lengthAdjust="spacingAndGlyphs" font-weight="bold" stroke="#00ff00" stroke-width="0.3">代 号</text>
<text x="727.5" y="527.3" font-size="5" fill="#00ff00" text-anchor="middle" textLength="11.5" lengthAdjust="spacingAndGlyphs" font-weight="bold" stroke="#00ff00" stroke-width="0.3">名 称</text>
<text x="752" y="527.3" font-size="5" fill="#00ff00" text-anchor="middle" textLength="7.5" lengthAdjust="spacingAndGlyphs" font-weight="bold" stroke="#00ff00" stroke-width="0.3">数量</text>
<text x="770" y="527.3" font-size="5" fill="#00ff00" text-anchor="middle" textLength="11.5" lengthAdjust="spacingAndGlyphs" font-weight="bold" stroke="#00ff00" stroke-width="0.3">材 料</text>
<text x="817" y="527.3" font-size="5" fill="#00ff00" text-anchor="middle" textLength="8" lengthAdjust="spacingAndGlyphs" font-weight="bold" stroke="#00ff00" stroke-width="0.3">备注</text>
<line x1="661" y1="531.5" x2="829" y2="531.5" stroke="#ffffff"/>
<line x1="661" y1="538.5" x2="736" y2="538.5" stroke="#00ff00"/>
<line x1="661" y1="545.5" x2="736" y2="545.5" stroke="#00ff00"/>
<line x1="661" y1="551.5" x2="736" y2="551.5" stroke="#00ff00"/>
<line x1="661" y1="557.5" x2="736" y2="557.5" stroke="#00ff00"/>
<line x1="661" y1="564.5" x2="736" y2="564.5" stroke="#00ff00"/>
<line x1="661" y1="570.5" x2="736" y2="570.5" stroke="#00ff00"/>
<line x1="661" y1="576.5" x2="736" y2="576.5" stroke="#00ff00"/>
<line x1="661" y1="583.5" x2="829" y2="583.5" stroke="#00ff00"/>
<line x1="670.5" y1="531" x2="670.5" y2="552" stroke="#00ff00"/>
<line x1="679.5" y1="531" x2="679.5" y2="552" stroke="#00ff00"/>
<line x1="694.5" y1="531" x2="694.5" y2="552" stroke="#00ff00"/>
<line x1="709.5" y1="531" x2="709.5" y2="552" stroke="#00ff00"/>
<line x1="720.5" y1="531" x2="720.5" y2="552" stroke="#00ff00"/>
<line x1="672.5" y1="557" x2="672.5" y2="584" stroke="#00ff00"/>
<line x1="683.5" y1="557" x2="683.5" y2="584" stroke="#00ff00"/>
<line x1="698.5" y1="557" x2="698.5" y2="584" stroke="#00ff00"/>
<line x1="709.5" y1="557" x2="709.5" y2="584" stroke="#00ff00"/>
<line x1="720.5" y1="557" x2="720.5" y2="584" stroke="#00ff00"/>
<line x1="735.5" y1="531" x2="735.5" y2="584" stroke="#00ff00"/>
<line x1="781.5" y1="531" x2="781.5" y2="584" stroke="#00ff00"/>
<line x1="735" y1="557.5" x2="782" y2="557.5" stroke="#00ff00"/>
<line x1="735" y1="565.5" x2="782" y2="565.5" stroke="#00ff00"/>
<line x1="735" y1="575.5" x2="782" y2="575.5" stroke="#00ff00"/>
<line x1="759.5" y1="557" x2="759.5" y2="576" stroke="#00ff00"/>
<line x1="770.5" y1="557" x2="770.5" y2="576" stroke="#00ff00"/>
<line x1="741.5" y1="565" x2="741.5" y2="576" stroke="#00ff00"/>
<line x1="747.5" y1="565" x2="747.5" y2="576" stroke="#00ff00"/>
<line x1="753.5" y1="565" x2="753.5" y2="576" stroke="#00ff00"/>
<line x1="781" y1="548.5" x2="829" y2="548.5" stroke="#00ff00"/>
<line x1="781" y1="566.5" x2="829" y2="566.5" stroke="#00ff00"/>
<text x="698.5" y="556.7" font-size="5.2" fill="#00ff00" text-anchor="middle" textLength="72" lengthAdjust="spacingAndGlyphs" font-weight="bold" stroke="#00ff00" stroke-width="0.45">标记处数 分区 更改文件号 签名 年月日</text>
<text x="667" y="563.5" font-size="5" fill="#00ff00" text-anchor="middle" textLength="8" lengthAdjust="spacingAndGlyphs" font-weight="bold" stroke="#00ff00" stroke-width="0.45">设计</text>
<text x="678" y="563.5" font-size="5" fill="#00ff00" text-anchor="middle" font-weight="bold" stroke="#00ff00" stroke-width="0.45"></text>
<text x="709.5" y="563.5" font-size="5" fill="#00ff00" text-anchor="middle" textLength="50" lengthAdjust="spacingAndGlyphs" font-weight="bold" stroke="#00ff00" stroke-width="0.45">标准化 (签名)(年月日)</text>
<text x="667" y="575.8" font-size="5" fill="#00ff00" text-anchor="middle" textLength="8" lengthAdjust="spacingAndGlyphs" font-weight="bold" stroke="#00ff00" stroke-width="0.45">审核</text>
<text x="667" y="582.3" font-size="5" fill="#00ff00" text-anchor="middle" textLength="8" lengthAdjust="spacingAndGlyphs" font-weight="bold" stroke="#00ff00" stroke-width="0.45">工艺</text>
<text x="704" y="582.3" font-size="5" fill="#00ff00" text-anchor="middle" textLength="8" lengthAdjust="spacingAndGlyphs" font-weight="bold" stroke="#00ff00" stroke-width="0.45">批准</text>
<text x="757.5" y="546.8" font-size="5.8" fill="#00ff00" text-anchor="middle" textLength="16.5" lengthAdjust="spacingAndGlyphs" font-weight="bold" stroke="#00ff00" stroke-width="0.7">装配图</text>
<text x="747.5" y="564" font-size="5.2" fill="#00ff00" text-anchor="middle" textLength="17" lengthAdjust="spacingAndGlyphs" font-weight="bold" stroke="#00ff00" stroke-width="0.45">阶段标记</text>
<text x="765" y="564" font-size="5.2" fill="#00ff00" text-anchor="middle" textLength="8" lengthAdjust="spacingAndGlyphs" font-weight="bold" stroke="#00ff00" stroke-width="0.45">重量</text>
<text x="776" y="564" font-size="5.2" fill="#00ff00" text-anchor="middle" textLength="8.5" lengthAdjust="spacingAndGlyphs" font-weight="bold" stroke="#00ff00" stroke-width="0.45">比例</text>
<text x="758.5" y="581.6" font-size="5" fill="#00ff00" text-anchor="middle" textLength="35" lengthAdjust="spacingAndGlyphs" font-weight="bold" stroke="#00ff00" stroke-width="0.3">共 张 第 张</text>
<text x="804.5" y="560.6" font-size="7.4" fill="#00ff00" text-anchor="middle" textLength="32" lengthAdjust="spacingAndGlyphs" font-weight="bold" stroke="#00ff00" stroke-width="0.7">回转装配机</text>
<text x="805.5" y="579.8" font-size="11" fill="#00ff00" text-anchor="middle" textLength="19.5" lengthAdjust="spacingAndGlyphs">XPJ</text>
<text x="567.8" y="492.1" font-size="3.7" fill="#00ff00" textLength="10.5" lengthAdjust="spacingAndGlyphs" font-weight="bold" stroke="#00ff00" stroke-width="0.25">技术要求</text>
<text x="567.8" y="496.7" font-size="3.7" fill="#00ff00" textLength="48" lengthAdjust="spacingAndGlyphs" font-weight="bold" stroke="#00ff00" stroke-width="0.25">1.装配前所有零件须清洗干净。</text>
<text x="567.8" y="501.5" font-size="3.7" fill="#00ff00" textLength="65" lengthAdjust="spacingAndGlyphs" font-weight="bold" stroke="#00ff00" stroke-width="0.25">2.各轴承处加注润滑脂，链条、链轮处涂润滑油。</text>
<text x="567.8" y="506.1" font-size="3.7" fill="#00ff00" textLength="59.5" lengthAdjust="spacingAndGlyphs" font-weight="bold" stroke="#00ff00" stroke-width="0.25">3.装配后，各运动部件应转动灵活无卡滞。</text>
<text x="567.8" y="511.1" font-size="3.7" fill="#00ff00" textLength="75" lengthAdjust="spacingAndGlyphs" font-weight="bold" stroke="#00ff00" stroke-width="0.25">4.未加工外表面涂防锈漆，面漆灰色，颜色均匀，不得有流挂现象。</text>
</svg>
</body></html>
